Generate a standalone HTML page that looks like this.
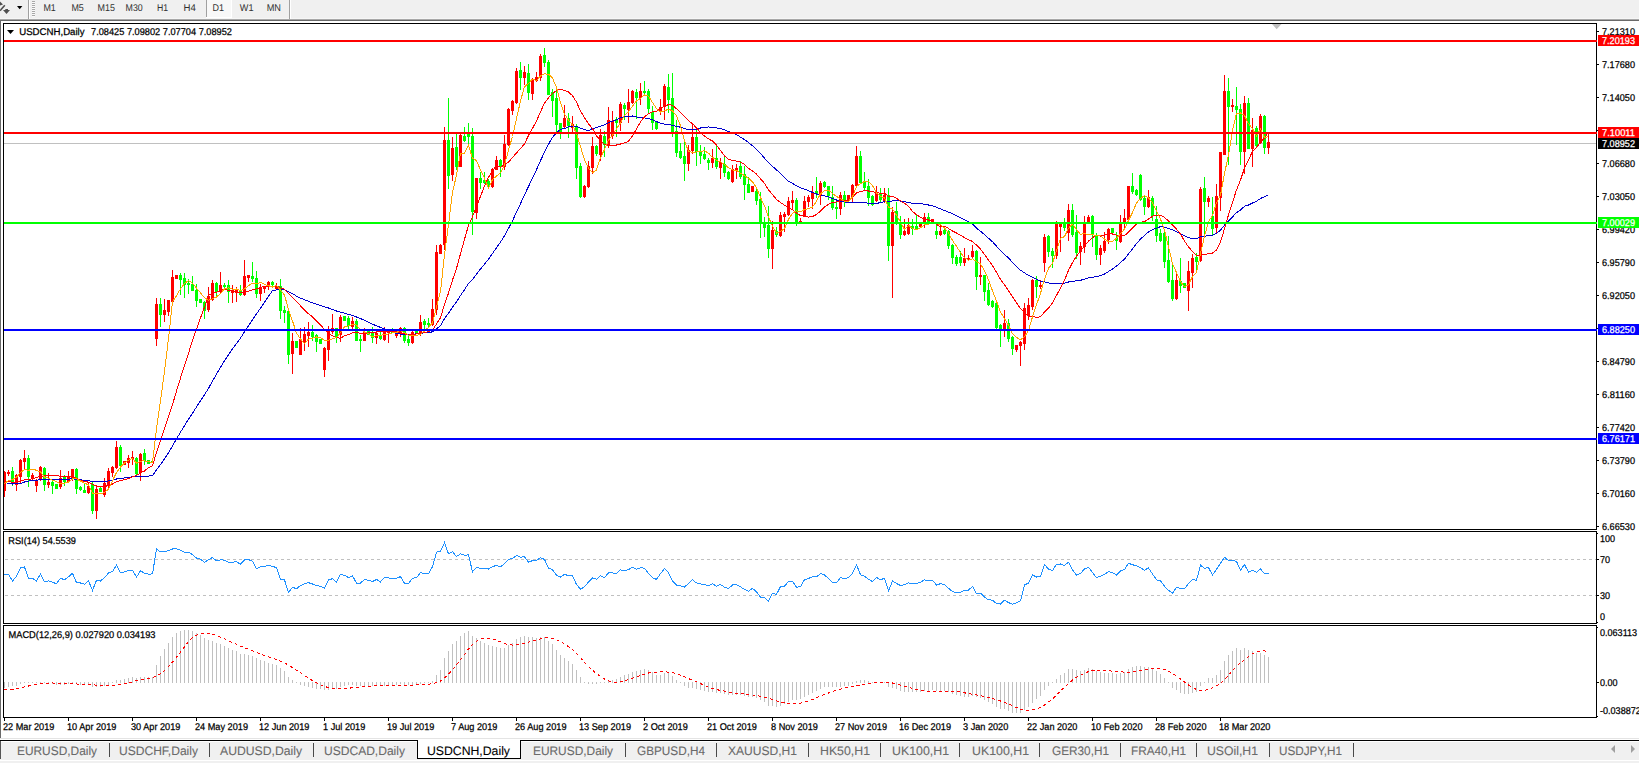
<!DOCTYPE html>
<html><head><meta charset="utf-8"><title>USDCNH,Daily</title>
<style>html,body{margin:0;padding:0;background:#fff;overflow:hidden}body{width:1639px;height:763px;font-family:"Liberation Sans", sans-serif}svg text{font-family:"Liberation Sans", sans-serif;white-space:pre}</style>
</head><body>
<svg width="1639" height="763" viewBox="0 0 1639 763" font-family='"Liberation Sans", sans-serif' style="display:block" text-rendering="geometricPrecision">
<rect x="0" y="0" width="1639" height="763" fill="#fff" />
<rect x="0" y="0" width="1639" height="18" fill="#f0f0f0" />
<rect x="0" y="18" width="1639" height="1" fill="#f6f6f6" />
<rect x="0" y="19" width="1639" height="1" fill="#a8a8a8" />
<rect x="0" y="20" width="1639" height="1" fill="#696969" />
<rect x="0" y="21" width="1" height="717" fill="#6a6a6a" />
<rect x="28" y="0" width="1" height="19" fill="#a0a0a0" />
<rect x="29" y="0" width="1" height="19" fill="#fff" />
<rect x="32" y="1" width="3" height="1" fill="#a8a8a8" />
<rect x="32" y="2" width="3" height="1" fill="#fafafa" />
<rect x="32" y="3" width="3" height="1" fill="#a8a8a8" />
<rect x="32" y="4" width="3" height="1" fill="#fafafa" />
<rect x="32" y="5" width="3" height="1" fill="#a8a8a8" />
<rect x="32" y="6" width="3" height="1" fill="#fafafa" />
<rect x="32" y="7" width="3" height="1" fill="#a8a8a8" />
<rect x="32" y="8" width="3" height="1" fill="#fafafa" />
<rect x="32" y="9" width="3" height="1" fill="#a8a8a8" />
<rect x="32" y="10" width="3" height="1" fill="#fafafa" />
<rect x="32" y="11" width="3" height="1" fill="#a8a8a8" />
<rect x="32" y="12" width="3" height="1" fill="#fafafa" />
<rect x="32" y="13" width="3" height="1" fill="#a8a8a8" />
<rect x="32" y="14" width="3" height="1" fill="#fafafa" />
<rect x="32" y="15" width="3" height="1" fill="#a8a8a8" />
<rect x="32" y="16" width="3" height="1" fill="#fafafa" />
<rect x="206" y="0" width="1" height="17" fill="#a0a0a0" />
<rect x="207" y="0" width="24" height="17" fill="#f8f8f8" />
<rect x="206" y="17" width="26" height="1" fill="#fff" />
<rect x="231" y="0" width="1" height="17" fill="#fff" />
<text x="43.4" y="11" font-size="9.8" fill="#303030" stroke="#303030" stroke-width="0" text-anchor="start" textLength="12.4" lengthAdjust="spacingAndGlyphs" >M1</text>
<text x="71.4" y="11" font-size="9.8" fill="#303030" stroke="#303030" stroke-width="0" text-anchor="start" textLength="12.4" lengthAdjust="spacingAndGlyphs" >M5</text>
<text x="97.6" y="11" font-size="9.8" fill="#303030" stroke="#303030" stroke-width="0" text-anchor="start" textLength="17.4" lengthAdjust="spacingAndGlyphs" >M15</text>
<text x="125.6" y="11" font-size="9.8" fill="#303030" stroke="#303030" stroke-width="0" text-anchor="start" textLength="17.2" lengthAdjust="spacingAndGlyphs" >M30</text>
<text x="156.9" y="11" font-size="9.8" fill="#303030" stroke="#303030" stroke-width="0" text-anchor="start" textLength="11.1" lengthAdjust="spacingAndGlyphs" >H1</text>
<text x="183.6" y="11" font-size="9.8" fill="#303030" stroke="#303030" stroke-width="0" text-anchor="start" textLength="12.3" lengthAdjust="spacingAndGlyphs" >H4</text>
<text x="212.5" y="11" font-size="9.8" fill="#303030" stroke="#303030" stroke-width="0" text-anchor="start" textLength="11.5" lengthAdjust="spacingAndGlyphs" >D1</text>
<text x="239.8" y="11" font-size="9.8" fill="#303030" stroke="#303030" stroke-width="0" text-anchor="start" textLength="13.7" lengthAdjust="spacingAndGlyphs" >W1</text>
<text x="266.7" y="11" font-size="9.8" fill="#303030" stroke="#303030" stroke-width="0" text-anchor="start" textLength="14.3" lengthAdjust="spacingAndGlyphs" >MN</text>
<rect x="289" y="0" width="1" height="19" fill="#a0a0a0" />
<rect x="290" y="0" width="1" height="19" fill="#fff" />
<path d="M0 1.5 L3 4.5 L0 5.5 Z" fill="#505050"/>
<path d="M4.8 5.2 L0 10.8" stroke="#505050" stroke-width="1.6" fill="none"/>
<path d="M5.3 9 L8 9 L8 10 L10 10 L6.5 14 L3 10 L5.3 10 Z" fill="#505050"/>
<path d="M17 6 L22.4 6 L19.7 9.3 Z" fill="#000"/>
<rect x="3" y="23" width="1594" height="1" fill="#000" />
<rect x="3" y="529" width="1594" height="1" fill="#000" />
<rect x="3" y="23" width="1" height="507" fill="#000" />
<rect x="1596" y="23" width="1" height="507" fill="#000" />
<rect x="3" y="531" width="1594" height="1" fill="#000" />
<rect x="3" y="623" width="1594" height="1" fill="#000" />
<rect x="3" y="531" width="1" height="93" fill="#000" />
<rect x="1596" y="531" width="1" height="93" fill="#000" />
<rect x="3" y="625" width="1594" height="1" fill="#000" />
<rect x="3" y="717" width="1594" height="1" fill="#000" />
<rect x="3" y="625" width="1" height="93" fill="#000" />
<rect x="1596" y="625" width="1" height="93" fill="#000" />
<g shape-rendering="crispEdges">
<rect x="4" y="143" width="1592" height="1" fill="#c0c0c0" />
<rect x="4" y="471" width="1" height="26" fill="#ff0000" />
<rect x="4" y="472" width="2" height="19" fill="#ff0000" />
<rect x="8" y="470" width="1" height="6" fill="#ff0000" />
<rect x="7" y="472" width="3" height="2" fill="#ff0000" />
<rect x="12" y="467" width="1" height="19" fill="#00ff00" />
<rect x="11" y="471" width="3" height="11" fill="#00ff00" />
<rect x="16" y="474" width="1" height="17" fill="#ff0000" />
<rect x="15" y="475" width="3" height="10" fill="#ff0000" />
<rect x="20" y="459" width="1" height="24" fill="#ff0000" />
<rect x="19" y="460" width="3" height="17" fill="#ff0000" />
<rect x="24" y="450" width="1" height="20" fill="#ff0000" />
<rect x="23" y="458" width="3" height="4" fill="#ff0000" />
<rect x="28" y="455" width="1" height="32" fill="#00ff00" />
<rect x="27" y="458" width="3" height="19" fill="#00ff00" />
<rect x="32" y="473" width="1" height="8" fill="#ff0000" />
<rect x="31" y="475" width="3" height="3" fill="#ff0000" />
<rect x="36" y="479" width="1" height="13" fill="#ff0000" />
<rect x="35" y="480" width="3" height="6" fill="#ff0000" />
<rect x="40" y="466" width="1" height="15" fill="#ff0000" />
<rect x="39" y="467" width="3" height="13" fill="#ff0000" />
<rect x="44" y="467" width="1" height="24" fill="#00ff00" />
<rect x="43" y="468" width="3" height="17" fill="#00ff00" />
<rect x="48" y="473" width="1" height="15" fill="#ff0000" />
<rect x="47" y="482" width="3" height="3" fill="#ff0000" />
<rect x="52" y="480" width="1" height="14" fill="#00ff00" />
<rect x="51" y="482" width="3" height="4" fill="#00ff00" />
<rect x="56" y="484" width="1" height="5" fill="#00ff00" />
<rect x="55" y="484" width="3" height="5" fill="#00ff00" />
<rect x="60" y="470" width="1" height="19" fill="#ff0000" />
<rect x="59" y="478" width="3" height="9" fill="#ff0000" />
<rect x="64" y="475" width="1" height="11" fill="#00ff00" />
<rect x="63" y="477" width="3" height="5" fill="#00ff00" />
<rect x="68" y="471" width="1" height="11" fill="#ff0000" />
<rect x="67" y="476" width="3" height="6" fill="#ff0000" />
<rect x="72" y="469" width="1" height="12" fill="#ff0000" />
<rect x="71" y="469" width="3" height="9" fill="#ff0000" />
<rect x="76" y="468" width="1" height="26" fill="#00ff00" />
<rect x="75" y="469" width="3" height="20" fill="#00ff00" />
<rect x="80" y="486" width="1" height="5" fill="#00ff00" />
<rect x="79" y="487" width="3" height="3" fill="#00ff00" />
<rect x="84" y="484" width="1" height="9" fill="#00ff00" />
<rect x="83" y="490" width="3" height="3" fill="#00ff00" />
<rect x="88" y="482" width="1" height="12" fill="#ff0000" />
<rect x="87" y="486" width="3" height="7" fill="#ff0000" />
<rect x="92" y="482" width="1" height="32" fill="#00ff00" />
<rect x="91" y="484" width="3" height="27" fill="#00ff00" />
<rect x="96" y="486" width="1" height="33" fill="#ff0000" />
<rect x="95" y="489" width="3" height="22" fill="#ff0000" />
<rect x="100" y="486" width="1" height="6" fill="#00ff00" />
<rect x="99" y="488" width="3" height="4" fill="#00ff00" />
<rect x="104" y="478" width="1" height="19" fill="#ff0000" />
<rect x="103" y="483" width="3" height="12" fill="#ff0000" />
<rect x="108" y="468" width="1" height="21" fill="#ff0000" />
<rect x="107" y="471" width="3" height="15" fill="#ff0000" />
<rect x="112" y="466" width="1" height="11" fill="#ff0000" />
<rect x="111" y="467" width="3" height="6" fill="#ff0000" />
<rect x="116" y="441" width="1" height="28" fill="#ff0000" />
<rect x="115" y="447" width="3" height="21" fill="#ff0000" />
<rect x="120" y="445" width="1" height="27" fill="#00ff00" />
<rect x="119" y="447" width="3" height="19" fill="#00ff00" />
<rect x="124" y="461" width="1" height="4" fill="#ff0000" />
<rect x="123" y="461" width="3" height="4" fill="#ff0000" />
<rect x="128" y="455" width="1" height="13" fill="#ff0000" />
<rect x="127" y="458" width="3" height="5" fill="#ff0000" />
<rect x="132" y="451" width="1" height="14" fill="#ff0000" />
<rect x="131" y="457" width="3" height="2" fill="#ff0000" />
<rect x="136" y="457" width="1" height="18" fill="#00ff00" />
<rect x="135" y="458" width="3" height="16" fill="#00ff00" />
<rect x="140" y="453" width="1" height="28" fill="#ff0000" />
<rect x="139" y="454" width="3" height="19" fill="#ff0000" />
<rect x="144" y="449" width="1" height="16" fill="#00ff00" />
<rect x="143" y="453" width="3" height="8" fill="#00ff00" />
<rect x="148" y="460" width="1" height="4" fill="#00ff00" />
<rect x="147" y="460" width="3" height="4" fill="#00ff00" />
<rect x="152" y="461" width="1" height="2" fill="#00ff00" />
<rect x="151" y="461" width="3" height="2" fill="#00ff00" />
<rect x="156" y="298" width="1" height="48" fill="#ff0000" />
<rect x="155" y="304" width="3" height="35" fill="#ff0000" />
<rect x="160" y="298" width="1" height="29" fill="#00ff00" />
<rect x="159" y="304" width="3" height="11" fill="#00ff00" />
<rect x="164" y="299" width="1" height="23" fill="#ff0000" />
<rect x="163" y="310" width="3" height="5" fill="#ff0000" />
<rect x="168" y="300" width="1" height="16" fill="#ff0000" />
<rect x="167" y="300" width="3" height="12" fill="#ff0000" />
<rect x="172" y="270" width="1" height="32" fill="#ff0000" />
<rect x="171" y="277" width="3" height="25" fill="#ff0000" />
<rect x="176" y="275" width="1" height="4" fill="#ff0000" />
<rect x="175" y="275" width="3" height="4" fill="#ff0000" />
<rect x="180" y="273" width="1" height="22" fill="#00ff00" />
<rect x="179" y="275" width="3" height="5" fill="#00ff00" />
<rect x="184" y="273" width="1" height="25" fill="#00ff00" />
<rect x="183" y="278" width="3" height="7" fill="#00ff00" />
<rect x="188" y="279" width="1" height="15" fill="#00ff00" />
<rect x="187" y="283" width="3" height="2" fill="#00ff00" />
<rect x="192" y="276" width="1" height="15" fill="#00ff00" />
<rect x="191" y="284" width="3" height="7" fill="#00ff00" />
<rect x="196" y="284" width="1" height="23" fill="#00ff00" />
<rect x="195" y="290" width="3" height="11" fill="#00ff00" />
<rect x="200" y="299" width="1" height="4" fill="#00ff00" />
<rect x="199" y="299" width="3" height="4" fill="#00ff00" />
<rect x="204" y="301" width="1" height="18" fill="#00ff00" />
<rect x="203" y="302" width="3" height="9" fill="#00ff00" />
<rect x="208" y="287" width="1" height="25" fill="#ff0000" />
<rect x="207" y="296" width="3" height="14" fill="#ff0000" />
<rect x="212" y="280" width="1" height="21" fill="#ff0000" />
<rect x="211" y="283" width="3" height="17" fill="#ff0000" />
<rect x="216" y="282" width="1" height="15" fill="#00ff00" />
<rect x="215" y="283" width="3" height="9" fill="#00ff00" />
<rect x="220" y="272" width="1" height="21" fill="#ff0000" />
<rect x="219" y="285" width="3" height="7" fill="#ff0000" />
<rect x="224" y="283" width="1" height="6" fill="#00ff00" />
<rect x="223" y="285" width="3" height="2" fill="#00ff00" />
<rect x="228" y="280" width="1" height="23" fill="#00ff00" />
<rect x="227" y="285" width="3" height="7" fill="#00ff00" />
<rect x="232" y="285" width="1" height="18" fill="#ff0000" />
<rect x="231" y="290" width="3" height="3" fill="#ff0000" />
<rect x="236" y="287" width="1" height="15" fill="#ff0000" />
<rect x="235" y="289" width="3" height="4" fill="#ff0000" />
<rect x="240" y="285" width="1" height="11" fill="#00ff00" />
<rect x="239" y="290" width="3" height="5" fill="#00ff00" />
<rect x="244" y="260" width="1" height="36" fill="#ff0000" />
<rect x="243" y="276" width="3" height="19" fill="#ff0000" />
<rect x="248" y="275" width="1" height="7" fill="#ff0000" />
<rect x="247" y="275" width="3" height="3" fill="#ff0000" />
<rect x="252" y="262" width="1" height="20" fill="#00ff00" />
<rect x="251" y="276" width="3" height="3" fill="#00ff00" />
<rect x="256" y="271" width="1" height="27" fill="#00ff00" />
<rect x="255" y="278" width="3" height="16" fill="#00ff00" />
<rect x="260" y="284" width="1" height="17" fill="#ff0000" />
<rect x="259" y="287" width="3" height="7" fill="#ff0000" />
<rect x="264" y="286" width="1" height="7" fill="#ff0000" />
<rect x="263" y="286" width="3" height="3" fill="#ff0000" />
<rect x="268" y="281" width="1" height="9" fill="#ff0000" />
<rect x="267" y="282" width="3" height="4" fill="#ff0000" />
<rect x="272" y="281" width="1" height="5" fill="#00ff00" />
<rect x="271" y="282" width="3" height="3" fill="#00ff00" />
<rect x="276" y="283" width="1" height="6" fill="#ff0000" />
<rect x="275" y="286" width="3" height="3" fill="#ff0000" />
<rect x="280" y="279" width="1" height="40" fill="#00ff00" />
<rect x="279" y="286" width="3" height="25" fill="#00ff00" />
<rect x="284" y="306" width="1" height="17" fill="#00ff00" />
<rect x="283" y="310" width="3" height="3" fill="#00ff00" />
<rect x="288" y="310" width="1" height="54" fill="#00ff00" />
<rect x="287" y="311" width="3" height="44" fill="#00ff00" />
<rect x="292" y="333" width="1" height="41" fill="#ff0000" />
<rect x="291" y="341" width="3" height="13" fill="#ff0000" />
<rect x="296" y="341" width="1" height="7" fill="#00ff00" />
<rect x="295" y="341" width="3" height="7" fill="#00ff00" />
<rect x="300" y="328" width="1" height="27" fill="#ff0000" />
<rect x="299" y="339" width="3" height="16" fill="#ff0000" />
<rect x="304" y="327" width="1" height="24" fill="#ff0000" />
<rect x="303" y="334" width="3" height="8" fill="#ff0000" />
<rect x="308" y="322" width="1" height="25" fill="#ff0000" />
<rect x="307" y="332" width="3" height="4" fill="#ff0000" />
<rect x="312" y="325" width="1" height="16" fill="#00ff00" />
<rect x="311" y="332" width="3" height="5" fill="#00ff00" />
<rect x="316" y="334" width="1" height="18" fill="#00ff00" />
<rect x="315" y="335" width="3" height="7" fill="#00ff00" />
<rect x="320" y="339" width="1" height="5" fill="#00ff00" />
<rect x="319" y="339" width="3" height="5" fill="#00ff00" />
<rect x="324" y="347" width="1" height="30" fill="#ff0000" />
<rect x="323" y="348" width="3" height="22" fill="#ff0000" />
<rect x="328" y="326" width="1" height="35" fill="#ff0000" />
<rect x="327" y="331" width="3" height="19" fill="#ff0000" />
<rect x="332" y="314" width="1" height="20" fill="#ff0000" />
<rect x="331" y="328" width="3" height="4" fill="#ff0000" />
<rect x="336" y="328" width="1" height="15" fill="#00ff00" />
<rect x="335" y="328" width="3" height="10" fill="#00ff00" />
<rect x="340" y="315" width="1" height="27" fill="#ff0000" />
<rect x="339" y="317" width="3" height="18" fill="#ff0000" />
<rect x="344" y="316" width="1" height="5" fill="#00ff00" />
<rect x="343" y="316" width="3" height="5" fill="#00ff00" />
<rect x="348" y="316" width="1" height="14" fill="#00ff00" />
<rect x="347" y="318" width="3" height="8" fill="#00ff00" />
<rect x="352" y="317" width="1" height="13" fill="#ff0000" />
<rect x="351" y="321" width="3" height="6" fill="#ff0000" />
<rect x="356" y="319" width="1" height="22" fill="#00ff00" />
<rect x="355" y="321" width="3" height="20" fill="#00ff00" />
<rect x="360" y="335" width="1" height="17" fill="#00ff00" />
<rect x="359" y="339" width="3" height="2" fill="#00ff00" />
<rect x="364" y="328" width="1" height="13" fill="#ff0000" />
<rect x="363" y="332" width="3" height="9" fill="#ff0000" />
<rect x="368" y="331" width="1" height="4" fill="#00ff00" />
<rect x="367" y="331" width="3" height="4" fill="#00ff00" />
<rect x="372" y="327" width="1" height="16" fill="#00ff00" />
<rect x="371" y="332" width="3" height="6" fill="#00ff00" />
<rect x="376" y="332" width="1" height="12" fill="#ff0000" />
<rect x="375" y="333" width="3" height="5" fill="#ff0000" />
<rect x="380" y="331" width="1" height="9" fill="#00ff00" />
<rect x="379" y="335" width="3" height="4" fill="#00ff00" />
<rect x="384" y="327" width="1" height="14" fill="#ff0000" />
<rect x="383" y="329" width="3" height="11" fill="#ff0000" />
<rect x="388" y="329" width="1" height="14" fill="#ff0000" />
<rect x="387" y="330" width="3" height="3" fill="#ff0000" />
<rect x="392" y="328" width="1" height="5" fill="#00ff00" />
<rect x="391" y="329" width="3" height="4" fill="#00ff00" />
<rect x="396" y="329" width="1" height="9" fill="#ff0000" />
<rect x="395" y="331" width="3" height="5" fill="#ff0000" />
<rect x="400" y="327" width="1" height="10" fill="#ff0000" />
<rect x="399" y="328" width="3" height="6" fill="#ff0000" />
<rect x="404" y="327" width="1" height="16" fill="#00ff00" />
<rect x="403" y="328" width="3" height="13" fill="#00ff00" />
<rect x="408" y="336" width="1" height="10" fill="#00ff00" />
<rect x="407" y="339" width="3" height="4" fill="#00ff00" />
<rect x="412" y="331" width="1" height="13" fill="#ff0000" />
<rect x="411" y="332" width="3" height="11" fill="#ff0000" />
<rect x="416" y="331" width="1" height="2" fill="#00ff00" />
<rect x="415" y="331" width="3" height="2" fill="#00ff00" />
<rect x="420" y="315" width="1" height="21" fill="#ff0000" />
<rect x="419" y="322" width="3" height="11" fill="#ff0000" />
<rect x="424" y="319" width="1" height="11" fill="#00ff00" />
<rect x="423" y="321" width="3" height="4" fill="#00ff00" />
<rect x="428" y="318" width="1" height="10" fill="#00ff00" />
<rect x="427" y="323" width="3" height="2" fill="#00ff00" />
<rect x="432" y="299" width="1" height="27" fill="#ff0000" />
<rect x="431" y="309" width="3" height="16" fill="#ff0000" />
<rect x="436" y="245" width="1" height="70" fill="#ff0000" />
<rect x="435" y="252" width="3" height="58" fill="#ff0000" />
<rect x="440" y="244" width="1" height="10" fill="#ff0000" />
<rect x="439" y="245" width="3" height="9" fill="#ff0000" />
<rect x="444" y="127" width="1" height="123" fill="#ff0000" />
<rect x="443" y="140" width="3" height="105" fill="#ff0000" />
<rect x="448" y="98" width="1" height="91" fill="#00ff00" />
<rect x="447" y="140" width="3" height="36" fill="#00ff00" />
<rect x="452" y="137" width="1" height="44" fill="#ff0000" />
<rect x="451" y="148" width="3" height="27" fill="#ff0000" />
<rect x="456" y="134" width="1" height="36" fill="#00ff00" />
<rect x="455" y="147" width="3" height="20" fill="#00ff00" />
<rect x="460" y="133" width="1" height="34" fill="#ff0000" />
<rect x="459" y="135" width="3" height="32" fill="#ff0000" />
<rect x="464" y="127" width="1" height="15" fill="#00ff00" />
<rect x="463" y="136" width="3" height="5" fill="#00ff00" />
<rect x="468" y="123" width="1" height="23" fill="#00ff00" />
<rect x="467" y="134" width="3" height="3" fill="#00ff00" />
<rect x="472" y="128" width="1" height="107" fill="#00ff00" />
<rect x="471" y="136" width="3" height="76" fill="#00ff00" />
<rect x="476" y="178" width="1" height="41" fill="#ff0000" />
<rect x="475" y="178" width="3" height="35" fill="#ff0000" />
<rect x="480" y="172" width="1" height="17" fill="#00ff00" />
<rect x="479" y="178" width="3" height="5" fill="#00ff00" />
<rect x="484" y="172" width="1" height="12" fill="#00ff00" />
<rect x="483" y="180" width="3" height="3" fill="#00ff00" />
<rect x="488" y="179" width="1" height="9" fill="#00ff00" />
<rect x="487" y="181" width="3" height="5" fill="#00ff00" />
<rect x="492" y="168" width="1" height="20" fill="#ff0000" />
<rect x="491" y="169" width="3" height="18" fill="#ff0000" />
<rect x="496" y="156" width="1" height="14" fill="#ff0000" />
<rect x="495" y="160" width="3" height="10" fill="#ff0000" />
<rect x="500" y="159" width="1" height="18" fill="#00ff00" />
<rect x="499" y="160" width="3" height="7" fill="#00ff00" />
<rect x="504" y="135" width="1" height="35" fill="#ff0000" />
<rect x="503" y="144" width="3" height="23" fill="#ff0000" />
<rect x="508" y="108" width="1" height="38" fill="#ff0000" />
<rect x="507" y="109" width="3" height="36" fill="#ff0000" />
<rect x="512" y="100" width="1" height="15" fill="#ff0000" />
<rect x="511" y="101" width="3" height="10" fill="#ff0000" />
<rect x="516" y="68" width="1" height="36" fill="#ff0000" />
<rect x="515" y="71" width="3" height="32" fill="#ff0000" />
<rect x="520" y="62" width="1" height="28" fill="#00ff00" />
<rect x="519" y="70" width="3" height="8" fill="#00ff00" />
<rect x="524" y="66" width="1" height="19" fill="#ff0000" />
<rect x="523" y="72" width="3" height="6" fill="#ff0000" />
<rect x="528" y="64" width="1" height="36" fill="#00ff00" />
<rect x="527" y="73" width="3" height="20" fill="#00ff00" />
<rect x="532" y="78" width="1" height="22" fill="#ff0000" />
<rect x="531" y="80" width="3" height="14" fill="#ff0000" />
<rect x="536" y="72" width="1" height="10" fill="#ff0000" />
<rect x="535" y="77" width="3" height="4" fill="#ff0000" />
<rect x="540" y="54" width="1" height="27" fill="#ff0000" />
<rect x="539" y="56" width="3" height="22" fill="#ff0000" />
<rect x="544" y="48" width="1" height="19" fill="#00ff00" />
<rect x="543" y="55" width="3" height="8" fill="#00ff00" />
<rect x="548" y="60" width="1" height="35" fill="#00ff00" />
<rect x="547" y="62" width="3" height="33" fill="#00ff00" />
<rect x="552" y="89" width="1" height="28" fill="#00ff00" />
<rect x="551" y="92" width="3" height="9" fill="#00ff00" />
<rect x="556" y="91" width="1" height="42" fill="#00ff00" />
<rect x="555" y="98" width="3" height="27" fill="#00ff00" />
<rect x="560" y="123" width="1" height="16" fill="#00ff00" />
<rect x="559" y="123" width="3" height="10" fill="#00ff00" />
<rect x="564" y="105" width="1" height="23" fill="#ff0000" />
<rect x="563" y="118" width="3" height="9" fill="#ff0000" />
<rect x="568" y="113" width="1" height="25" fill="#00ff00" />
<rect x="567" y="118" width="3" height="8" fill="#00ff00" />
<rect x="572" y="116" width="1" height="17" fill="#ff0000" />
<rect x="571" y="124" width="3" height="4" fill="#ff0000" />
<rect x="576" y="124" width="1" height="55" fill="#00ff00" />
<rect x="575" y="126" width="3" height="42" fill="#00ff00" />
<rect x="580" y="163" width="1" height="35" fill="#00ff00" />
<rect x="579" y="166" width="3" height="31" fill="#00ff00" />
<rect x="584" y="185" width="1" height="13" fill="#ff0000" />
<rect x="583" y="186" width="3" height="11" fill="#ff0000" />
<rect x="588" y="161" width="1" height="27" fill="#ff0000" />
<rect x="587" y="166" width="3" height="21" fill="#ff0000" />
<rect x="592" y="137" width="1" height="37" fill="#ff0000" />
<rect x="591" y="146" width="3" height="22" fill="#ff0000" />
<rect x="596" y="145" width="1" height="11" fill="#00ff00" />
<rect x="595" y="146" width="3" height="8" fill="#00ff00" />
<rect x="600" y="129" width="1" height="32" fill="#ff0000" />
<rect x="599" y="135" width="3" height="20" fill="#ff0000" />
<rect x="604" y="131" width="1" height="26" fill="#00ff00" />
<rect x="603" y="136" width="3" height="9" fill="#00ff00" />
<rect x="608" y="107" width="1" height="41" fill="#ff0000" />
<rect x="607" y="120" width="3" height="26" fill="#ff0000" />
<rect x="612" y="111" width="1" height="28" fill="#ff0000" />
<rect x="611" y="121" width="3" height="15" fill="#ff0000" />
<rect x="616" y="117" width="1" height="20" fill="#00ff00" />
<rect x="615" y="119" width="3" height="4" fill="#00ff00" />
<rect x="620" y="102" width="1" height="29" fill="#ff0000" />
<rect x="619" y="104" width="3" height="19" fill="#ff0000" />
<rect x="624" y="103" width="1" height="17" fill="#00ff00" />
<rect x="623" y="105" width="3" height="4" fill="#00ff00" />
<rect x="628" y="89" width="1" height="34" fill="#ff0000" />
<rect x="627" y="102" width="3" height="8" fill="#ff0000" />
<rect x="632" y="90" width="1" height="14" fill="#ff0000" />
<rect x="631" y="91" width="3" height="12" fill="#ff0000" />
<rect x="636" y="89" width="1" height="30" fill="#00ff00" />
<rect x="635" y="92" width="3" height="6" fill="#00ff00" />
<rect x="640" y="83" width="1" height="22" fill="#ff0000" />
<rect x="639" y="91" width="3" height="7" fill="#ff0000" />
<rect x="644" y="81" width="1" height="15" fill="#00ff00" />
<rect x="643" y="91" width="3" height="2" fill="#00ff00" />
<rect x="648" y="89" width="1" height="24" fill="#00ff00" />
<rect x="647" y="91" width="3" height="18" fill="#00ff00" />
<rect x="652" y="106" width="1" height="24" fill="#00ff00" />
<rect x="651" y="112" width="3" height="11" fill="#00ff00" />
<rect x="656" y="121" width="1" height="9" fill="#00ff00" />
<rect x="655" y="122" width="3" height="7" fill="#00ff00" />
<rect x="660" y="99" width="1" height="16" fill="#ff0000" />
<rect x="659" y="107" width="3" height="5" fill="#ff0000" />
<rect x="664" y="84" width="1" height="36" fill="#ff0000" />
<rect x="663" y="86" width="3" height="21" fill="#ff0000" />
<rect x="668" y="74" width="1" height="39" fill="#00ff00" />
<rect x="667" y="87" width="3" height="13" fill="#00ff00" />
<rect x="672" y="73" width="1" height="64" fill="#00ff00" />
<rect x="671" y="98" width="3" height="35" fill="#00ff00" />
<rect x="676" y="120" width="1" height="37" fill="#00ff00" />
<rect x="675" y="131" width="3" height="22" fill="#00ff00" />
<rect x="680" y="143" width="1" height="16" fill="#00ff00" />
<rect x="679" y="151" width="3" height="7" fill="#00ff00" />
<rect x="684" y="142" width="1" height="39" fill="#00ff00" />
<rect x="683" y="156" width="3" height="8" fill="#00ff00" />
<rect x="688" y="145" width="1" height="26" fill="#ff0000" />
<rect x="687" y="150" width="3" height="14" fill="#ff0000" />
<rect x="692" y="124" width="1" height="30" fill="#ff0000" />
<rect x="691" y="137" width="3" height="14" fill="#ff0000" />
<rect x="696" y="128" width="1" height="38" fill="#00ff00" />
<rect x="695" y="137" width="3" height="15" fill="#00ff00" />
<rect x="700" y="145" width="1" height="19" fill="#00ff00" />
<rect x="699" y="151" width="3" height="5" fill="#00ff00" />
<rect x="704" y="147" width="1" height="13" fill="#00ff00" />
<rect x="703" y="154" width="3" height="5" fill="#00ff00" />
<rect x="708" y="158" width="1" height="12" fill="#00ff00" />
<rect x="707" y="160" width="3" height="3" fill="#00ff00" />
<rect x="712" y="149" width="1" height="19" fill="#ff0000" />
<rect x="711" y="158" width="3" height="5" fill="#ff0000" />
<rect x="716" y="146" width="1" height="23" fill="#00ff00" />
<rect x="715" y="158" width="3" height="9" fill="#00ff00" />
<rect x="720" y="158" width="1" height="21" fill="#ff0000" />
<rect x="719" y="162" width="3" height="6" fill="#ff0000" />
<rect x="724" y="157" width="1" height="20" fill="#00ff00" />
<rect x="723" y="164" width="3" height="9" fill="#00ff00" />
<rect x="728" y="171" width="1" height="9" fill="#00ff00" />
<rect x="727" y="172" width="3" height="7" fill="#00ff00" />
<rect x="732" y="165" width="1" height="18" fill="#ff0000" />
<rect x="731" y="169" width="3" height="13" fill="#ff0000" />
<rect x="736" y="164" width="1" height="15" fill="#ff0000" />
<rect x="735" y="168" width="3" height="3" fill="#ff0000" />
<rect x="740" y="161" width="1" height="18" fill="#00ff00" />
<rect x="739" y="166" width="3" height="11" fill="#00ff00" />
<rect x="744" y="166" width="1" height="34" fill="#00ff00" />
<rect x="743" y="174" width="3" height="11" fill="#00ff00" />
<rect x="748" y="177" width="1" height="16" fill="#00ff00" />
<rect x="747" y="184" width="3" height="9" fill="#00ff00" />
<rect x="752" y="186" width="1" height="6" fill="#ff0000" />
<rect x="751" y="186" width="3" height="6" fill="#ff0000" />
<rect x="756" y="189" width="1" height="16" fill="#00ff00" />
<rect x="755" y="191" width="3" height="10" fill="#00ff00" />
<rect x="760" y="192" width="1" height="46" fill="#00ff00" />
<rect x="759" y="199" width="3" height="25" fill="#00ff00" />
<rect x="764" y="217" width="1" height="20" fill="#00ff00" />
<rect x="763" y="223" width="3" height="5" fill="#00ff00" />
<rect x="768" y="206" width="1" height="52" fill="#00ff00" />
<rect x="767" y="225" width="3" height="24" fill="#00ff00" />
<rect x="772" y="221" width="1" height="48" fill="#ff0000" />
<rect x="771" y="230" width="3" height="19" fill="#ff0000" />
<rect x="776" y="227" width="1" height="10" fill="#00ff00" />
<rect x="775" y="231" width="3" height="4" fill="#00ff00" />
<rect x="780" y="212" width="1" height="25" fill="#ff0000" />
<rect x="779" y="215" width="3" height="21" fill="#ff0000" />
<rect x="784" y="212" width="1" height="20" fill="#ff0000" />
<rect x="783" y="214" width="3" height="3" fill="#ff0000" />
<rect x="788" y="197" width="1" height="19" fill="#ff0000" />
<rect x="787" y="201" width="3" height="14" fill="#ff0000" />
<rect x="792" y="191" width="1" height="19" fill="#ff0000" />
<rect x="791" y="200" width="3" height="3" fill="#ff0000" />
<rect x="796" y="198" width="1" height="28" fill="#00ff00" />
<rect x="795" y="200" width="3" height="23" fill="#00ff00" />
<rect x="800" y="218" width="1" height="5" fill="#ff0000" />
<rect x="799" y="221" width="3" height="2" fill="#ff0000" />
<rect x="804" y="196" width="1" height="21" fill="#ff0000" />
<rect x="803" y="201" width="3" height="16" fill="#ff0000" />
<rect x="808" y="195" width="1" height="12" fill="#ff0000" />
<rect x="807" y="197" width="3" height="5" fill="#ff0000" />
<rect x="812" y="186" width="1" height="23" fill="#ff0000" />
<rect x="811" y="192" width="3" height="7" fill="#ff0000" />
<rect x="816" y="177" width="1" height="21" fill="#00ff00" />
<rect x="815" y="191" width="3" height="3" fill="#00ff00" />
<rect x="820" y="181" width="1" height="24" fill="#ff0000" />
<rect x="819" y="183" width="3" height="13" fill="#ff0000" />
<rect x="824" y="181" width="1" height="7" fill="#00ff00" />
<rect x="823" y="182" width="3" height="5" fill="#00ff00" />
<rect x="828" y="186" width="1" height="14" fill="#00ff00" />
<rect x="827" y="186" width="3" height="10" fill="#00ff00" />
<rect x="832" y="186" width="1" height="24" fill="#00ff00" />
<rect x="831" y="197" width="3" height="11" fill="#00ff00" />
<rect x="836" y="200" width="1" height="19" fill="#00ff00" />
<rect x="835" y="207" width="3" height="2" fill="#00ff00" />
<rect x="840" y="192" width="1" height="23" fill="#ff0000" />
<rect x="839" y="195" width="3" height="14" fill="#ff0000" />
<rect x="844" y="191" width="1" height="16" fill="#00ff00" />
<rect x="843" y="195" width="3" height="5" fill="#00ff00" />
<rect x="848" y="195" width="1" height="5" fill="#ff0000" />
<rect x="847" y="195" width="3" height="5" fill="#ff0000" />
<rect x="852" y="184" width="1" height="19" fill="#ff0000" />
<rect x="851" y="185" width="3" height="12" fill="#ff0000" />
<rect x="856" y="146" width="1" height="41" fill="#ff0000" />
<rect x="855" y="156" width="3" height="30" fill="#ff0000" />
<rect x="860" y="151" width="1" height="33" fill="#00ff00" />
<rect x="859" y="156" width="3" height="27" fill="#00ff00" />
<rect x="864" y="172" width="1" height="19" fill="#00ff00" />
<rect x="863" y="182" width="3" height="6" fill="#00ff00" />
<rect x="868" y="179" width="1" height="27" fill="#00ff00" />
<rect x="867" y="186" width="3" height="12" fill="#00ff00" />
<rect x="872" y="195" width="1" height="11" fill="#00ff00" />
<rect x="871" y="196" width="3" height="9" fill="#00ff00" />
<rect x="876" y="186" width="1" height="16" fill="#ff0000" />
<rect x="875" y="192" width="3" height="9" fill="#ff0000" />
<rect x="880" y="188" width="1" height="14" fill="#00ff00" />
<rect x="879" y="193" width="3" height="7" fill="#00ff00" />
<rect x="884" y="188" width="1" height="15" fill="#ff0000" />
<rect x="883" y="195" width="3" height="7" fill="#ff0000" />
<rect x="888" y="188" width="1" height="73" fill="#00ff00" />
<rect x="887" y="195" width="3" height="51" fill="#00ff00" />
<rect x="892" y="207" width="1" height="91" fill="#ff0000" />
<rect x="891" y="212" width="3" height="34" fill="#ff0000" />
<rect x="896" y="202" width="1" height="23" fill="#00ff00" />
<rect x="895" y="211" width="3" height="13" fill="#00ff00" />
<rect x="900" y="216" width="1" height="23" fill="#00ff00" />
<rect x="899" y="223" width="3" height="12" fill="#00ff00" />
<rect x="904" y="219" width="1" height="17" fill="#ff0000" />
<rect x="903" y="231" width="3" height="4" fill="#ff0000" />
<rect x="908" y="218" width="1" height="17" fill="#ff0000" />
<rect x="907" y="225" width="3" height="9" fill="#ff0000" />
<rect x="912" y="219" width="1" height="16" fill="#00ff00" />
<rect x="911" y="226" width="3" height="3" fill="#00ff00" />
<rect x="916" y="214" width="1" height="16" fill="#00ff00" />
<rect x="915" y="226" width="3" height="3" fill="#00ff00" />
<rect x="920" y="224" width="1" height="3" fill="#ff0000" />
<rect x="919" y="224" width="3" height="3" fill="#ff0000" />
<rect x="924" y="213" width="1" height="15" fill="#ff0000" />
<rect x="923" y="217" width="3" height="6" fill="#ff0000" />
<rect x="928" y="213" width="1" height="10" fill="#00ff00" />
<rect x="927" y="217" width="3" height="5" fill="#00ff00" />
<rect x="932" y="219" width="1" height="5" fill="#ff0000" />
<rect x="931" y="219" width="3" height="5" fill="#ff0000" />
<rect x="936" y="224" width="1" height="15" fill="#00ff00" />
<rect x="935" y="231" width="3" height="4" fill="#00ff00" />
<rect x="940" y="225" width="1" height="11" fill="#ff0000" />
<rect x="939" y="231" width="3" height="4" fill="#ff0000" />
<rect x="944" y="229" width="1" height="6" fill="#00ff00" />
<rect x="943" y="230" width="3" height="4" fill="#00ff00" />
<rect x="948" y="230" width="1" height="19" fill="#00ff00" />
<rect x="947" y="231" width="3" height="15" fill="#00ff00" />
<rect x="952" y="244" width="1" height="20" fill="#00ff00" />
<rect x="951" y="245" width="3" height="13" fill="#00ff00" />
<rect x="956" y="255" width="1" height="11" fill="#00ff00" />
<rect x="955" y="257" width="3" height="7" fill="#00ff00" />
<rect x="960" y="251" width="1" height="15" fill="#00ff00" />
<rect x="959" y="257" width="3" height="6" fill="#00ff00" />
<rect x="964" y="248" width="1" height="18" fill="#ff0000" />
<rect x="963" y="258" width="3" height="5" fill="#ff0000" />
<rect x="968" y="255" width="1" height="6" fill="#ff0000" />
<rect x="967" y="258" width="3" height="2" fill="#ff0000" />
<rect x="972" y="245" width="1" height="14" fill="#ff0000" />
<rect x="971" y="251" width="3" height="6" fill="#ff0000" />
<rect x="976" y="250" width="1" height="40" fill="#00ff00" />
<rect x="975" y="251" width="3" height="26" fill="#00ff00" />
<rect x="980" y="257" width="1" height="28" fill="#ff0000" />
<rect x="979" y="275" width="3" height="2" fill="#ff0000" />
<rect x="984" y="275" width="1" height="26" fill="#00ff00" />
<rect x="983" y="275" width="3" height="17" fill="#00ff00" />
<rect x="988" y="283" width="1" height="23" fill="#00ff00" />
<rect x="987" y="290" width="3" height="15" fill="#00ff00" />
<rect x="992" y="300" width="1" height="8" fill="#00ff00" />
<rect x="991" y="301" width="3" height="6" fill="#00ff00" />
<rect x="996" y="301" width="1" height="28" fill="#00ff00" />
<rect x="995" y="303" width="3" height="25" fill="#00ff00" />
<rect x="1000" y="324" width="1" height="23" fill="#00ff00" />
<rect x="999" y="325" width="3" height="6" fill="#00ff00" />
<rect x="1004" y="310" width="1" height="27" fill="#ff0000" />
<rect x="1003" y="323" width="3" height="7" fill="#ff0000" />
<rect x="1008" y="319" width="1" height="23" fill="#00ff00" />
<rect x="1007" y="323" width="3" height="16" fill="#00ff00" />
<rect x="1012" y="336" width="1" height="19" fill="#00ff00" />
<rect x="1011" y="337" width="3" height="12" fill="#00ff00" />
<rect x="1016" y="345" width="1" height="7" fill="#ff0000" />
<rect x="1015" y="345" width="3" height="5" fill="#ff0000" />
<rect x="1020" y="341" width="1" height="25" fill="#ff0000" />
<rect x="1019" y="342" width="3" height="4" fill="#ff0000" />
<rect x="1024" y="303" width="1" height="47" fill="#ff0000" />
<rect x="1023" y="308" width="3" height="36" fill="#ff0000" />
<rect x="1028" y="298" width="1" height="22" fill="#ff0000" />
<rect x="1027" y="305" width="3" height="11" fill="#ff0000" />
<rect x="1032" y="279" width="1" height="31" fill="#ff0000" />
<rect x="1031" y="280" width="3" height="27" fill="#ff0000" />
<rect x="1036" y="276" width="1" height="22" fill="#00ff00" />
<rect x="1035" y="280" width="3" height="7" fill="#00ff00" />
<rect x="1040" y="280" width="1" height="9" fill="#ff0000" />
<rect x="1039" y="285" width="3" height="2" fill="#ff0000" />
<rect x="1044" y="234" width="1" height="38" fill="#ff0000" />
<rect x="1043" y="237" width="3" height="26" fill="#ff0000" />
<rect x="1048" y="235" width="1" height="22" fill="#00ff00" />
<rect x="1047" y="236" width="3" height="16" fill="#00ff00" />
<rect x="1052" y="248" width="1" height="20" fill="#00ff00" />
<rect x="1051" y="251" width="3" height="5" fill="#00ff00" />
<rect x="1056" y="221" width="1" height="38" fill="#ff0000" />
<rect x="1055" y="223" width="3" height="33" fill="#ff0000" />
<rect x="1060" y="222" width="1" height="30" fill="#ff0000" />
<rect x="1059" y="223" width="3" height="4" fill="#ff0000" />
<rect x="1064" y="218" width="1" height="13" fill="#00ff00" />
<rect x="1063" y="223" width="3" height="5" fill="#00ff00" />
<rect x="1068" y="204" width="1" height="37" fill="#ff0000" />
<rect x="1067" y="210" width="3" height="23" fill="#ff0000" />
<rect x="1072" y="204" width="1" height="33" fill="#00ff00" />
<rect x="1071" y="210" width="3" height="25" fill="#00ff00" />
<rect x="1076" y="215" width="1" height="44" fill="#00ff00" />
<rect x="1075" y="232" width="3" height="21" fill="#00ff00" />
<rect x="1080" y="242" width="1" height="23" fill="#ff0000" />
<rect x="1079" y="246" width="3" height="6" fill="#ff0000" />
<rect x="1084" y="216" width="1" height="37" fill="#ff0000" />
<rect x="1083" y="224" width="3" height="23" fill="#ff0000" />
<rect x="1088" y="215" width="1" height="8" fill="#ff0000" />
<rect x="1087" y="217" width="3" height="6" fill="#ff0000" />
<rect x="1092" y="215" width="1" height="32" fill="#00ff00" />
<rect x="1091" y="216" width="3" height="19" fill="#00ff00" />
<rect x="1096" y="233" width="1" height="27" fill="#00ff00" />
<rect x="1095" y="235" width="3" height="20" fill="#00ff00" />
<rect x="1100" y="245" width="1" height="20" fill="#ff0000" />
<rect x="1099" y="248" width="3" height="7" fill="#ff0000" />
<rect x="1104" y="232" width="1" height="21" fill="#ff0000" />
<rect x="1103" y="241" width="3" height="10" fill="#ff0000" />
<rect x="1108" y="228" width="1" height="16" fill="#ff0000" />
<rect x="1107" y="229" width="3" height="11" fill="#ff0000" />
<rect x="1112" y="228" width="1" height="5" fill="#00ff00" />
<rect x="1111" y="228" width="3" height="5" fill="#00ff00" />
<rect x="1116" y="232" width="1" height="18" fill="#00ff00" />
<rect x="1115" y="238" width="3" height="3" fill="#00ff00" />
<rect x="1120" y="215" width="1" height="28" fill="#ff0000" />
<rect x="1119" y="224" width="3" height="18" fill="#ff0000" />
<rect x="1124" y="209" width="1" height="20" fill="#ff0000" />
<rect x="1123" y="218" width="3" height="6" fill="#ff0000" />
<rect x="1128" y="186" width="1" height="35" fill="#ff0000" />
<rect x="1127" y="186" width="3" height="34" fill="#ff0000" />
<rect x="1132" y="173" width="1" height="21" fill="#00ff00" />
<rect x="1131" y="186" width="3" height="6" fill="#00ff00" />
<rect x="1136" y="189" width="1" height="7" fill="#00ff00" />
<rect x="1135" y="190" width="3" height="5" fill="#00ff00" />
<rect x="1140" y="174" width="1" height="27" fill="#00ff00" />
<rect x="1139" y="175" width="3" height="25" fill="#00ff00" />
<rect x="1144" y="195" width="1" height="20" fill="#00ff00" />
<rect x="1143" y="198" width="3" height="9" fill="#00ff00" />
<rect x="1148" y="190" width="1" height="18" fill="#ff0000" />
<rect x="1147" y="197" width="3" height="10" fill="#ff0000" />
<rect x="1152" y="196" width="1" height="25" fill="#00ff00" />
<rect x="1151" y="198" width="3" height="18" fill="#00ff00" />
<rect x="1156" y="206" width="1" height="36" fill="#00ff00" />
<rect x="1155" y="219" width="3" height="17" fill="#00ff00" />
<rect x="1160" y="229" width="1" height="13" fill="#00ff00" />
<rect x="1159" y="233" width="3" height="8" fill="#00ff00" />
<rect x="1164" y="229" width="1" height="39" fill="#00ff00" />
<rect x="1163" y="233" width="3" height="29" fill="#00ff00" />
<rect x="1168" y="236" width="1" height="47" fill="#00ff00" />
<rect x="1167" y="260" width="3" height="22" fill="#00ff00" />
<rect x="1172" y="265" width="1" height="36" fill="#00ff00" />
<rect x="1171" y="280" width="3" height="19" fill="#00ff00" />
<rect x="1176" y="272" width="1" height="28" fill="#ff0000" />
<rect x="1175" y="280" width="3" height="19" fill="#ff0000" />
<rect x="1180" y="258" width="1" height="35" fill="#00ff00" />
<rect x="1179" y="281" width="3" height="5" fill="#00ff00" />
<rect x="1184" y="283" width="1" height="5" fill="#00ff00" />
<rect x="1183" y="283" width="3" height="5" fill="#00ff00" />
<rect x="1188" y="261" width="1" height="50" fill="#ff0000" />
<rect x="1187" y="271" width="3" height="20" fill="#ff0000" />
<rect x="1192" y="254" width="1" height="34" fill="#ff0000" />
<rect x="1191" y="258" width="3" height="15" fill="#ff0000" />
<rect x="1196" y="253" width="1" height="19" fill="#00ff00" />
<rect x="1195" y="257" width="3" height="5" fill="#00ff00" />
<rect x="1200" y="187" width="1" height="75" fill="#ff0000" />
<rect x="1199" y="189" width="3" height="72" fill="#ff0000" />
<rect x="1204" y="177" width="1" height="60" fill="#00ff00" />
<rect x="1203" y="188" width="3" height="14" fill="#00ff00" />
<rect x="1208" y="196" width="1" height="11" fill="#ff0000" />
<rect x="1207" y="198" width="3" height="4" fill="#ff0000" />
<rect x="1212" y="197" width="1" height="38" fill="#00ff00" />
<rect x="1211" y="216" width="3" height="13" fill="#00ff00" />
<rect x="1216" y="184" width="1" height="49" fill="#ff0000" />
<rect x="1215" y="196" width="3" height="32" fill="#ff0000" />
<rect x="1220" y="152" width="1" height="59" fill="#ff0000" />
<rect x="1219" y="152" width="3" height="46" fill="#ff0000" />
<rect x="1224" y="75" width="1" height="80" fill="#ff0000" />
<rect x="1223" y="91" width="3" height="64" fill="#ff0000" />
<rect x="1228" y="78" width="1" height="87" fill="#00ff00" />
<rect x="1227" y="91" width="3" height="16" fill="#00ff00" />
<rect x="1232" y="99" width="1" height="13" fill="#ff0000" />
<rect x="1231" y="105" width="3" height="2" fill="#ff0000" />
<rect x="1236" y="87" width="1" height="58" fill="#00ff00" />
<rect x="1235" y="106" width="3" height="4" fill="#00ff00" />
<rect x="1240" y="104" width="1" height="61" fill="#00ff00" />
<rect x="1239" y="109" width="3" height="43" fill="#00ff00" />
<rect x="1244" y="96" width="1" height="78" fill="#ff0000" />
<rect x="1243" y="103" width="3" height="49" fill="#ff0000" />
<rect x="1248" y="98" width="1" height="51" fill="#00ff00" />
<rect x="1247" y="103" width="3" height="46" fill="#00ff00" />
<rect x="1252" y="118" width="1" height="49" fill="#ff0000" />
<rect x="1251" y="130" width="3" height="19" fill="#ff0000" />
<rect x="1256" y="126" width="1" height="21" fill="#00ff00" />
<rect x="1255" y="128" width="3" height="18" fill="#00ff00" />
<rect x="1260" y="114" width="1" height="30" fill="#ff0000" />
<rect x="1259" y="116" width="3" height="27" fill="#ff0000" />
<rect x="1264" y="115" width="1" height="39" fill="#00ff00" />
<rect x="1263" y="116" width="3" height="32" fill="#00ff00" />
<rect x="1268" y="134" width="1" height="20" fill="#ff0000" />
<rect x="1267" y="142" width="3" height="6" fill="#ff0000" />
</g>
<g shape-rendering="crispEdges">
<polyline points="4.5,481.7 8.5,483.9 12.5,484.0 16.5,483.9 20.5,483.4 24.5,482.0 28.5,481.2 32.5,480.3 36.5,480.2 40.5,479.6 44.5,479.4 48.5,479.3 52.5,479.3 56.5,479.4 60.5,479.3 64.5,479.3 68.5,479.1 72.5,478.9 76.5,479.3 80.5,479.7 84.5,480.4 88.5,480.7 92.5,481.8 96.5,481.7 100.5,481.6 104.5,481.5 108.5,480.9 112.5,480.3 116.5,479.0 120.5,478.3 124.5,478.0 128.5,477.5 132.5,476.7 136.5,476.7 140.5,476.5 144.5,476.5 148.5,476.1 152.5,475.6 156.5,469.8 160.5,464.6 164.5,458.9 168.5,452.8 172.5,445.9 176.5,438.8 180.5,432.2 184.5,425.6 188.5,419.2 192.5,413.3 196.5,407.0 200.5,400.8 204.5,394.7 208.5,388.4 212.5,380.9 216.5,374.2 220.5,367.4 224.5,360.8 228.5,354.8 232.5,348.9 236.5,343.7 240.5,338.0 244.5,331.8 248.5,325.7 252.5,319.8 256.5,313.8 260.5,308.2 264.5,302.4 268.5,296.4 272.5,290.5 276.5,289.9 280.5,289.7 284.5,289.8 288.5,291.6 292.5,293.7 296.5,296.1 300.5,298.1 304.5,299.8 308.5,301.3 312.5,302.8 316.5,304.2 320.5,305.6 324.5,306.8 328.5,308.0 332.5,309.5 336.5,311.0 340.5,312.1 344.5,313.2 348.5,314.3 352.5,315.4 356.5,317.0 360.5,318.6 364.5,320.4 368.5,322.4 372.5,324.3 376.5,325.7 380.5,327.4 384.5,328.8 388.5,330.4 392.5,332.0 396.5,333.5 400.5,334.1 404.5,335.0 408.5,334.6 412.5,334.3 416.5,333.9 420.5,333.3 424.5,332.9 428.5,332.7 432.5,331.8 436.5,328.8 440.5,325.6 444.5,318.6 448.5,313.4 452.5,307.4 456.5,301.7 460.5,295.6 464.5,289.7 468.5,283.4 472.5,279.7 476.5,274.3 480.5,269.0 484.5,264.1 488.5,259.1 492.5,253.5 496.5,247.7 500.5,242.0 504.5,235.8 508.5,228.4 512.5,220.8 516.5,212.1 520.5,203.7 524.5,194.8 528.5,186.5 532.5,178.1 536.5,169.6 540.5,160.7 544.5,152.0 548.5,144.3 552.5,137.3 556.5,133.0 560.5,129.3 564.5,128.5 568.5,126.9 572.5,126.1 576.5,126.1 580.5,128.2 584.5,129.7 588.5,130.7 592.5,128.5 596.5,127.7 600.5,126.1 604.5,124.9 608.5,122.7 612.5,121.1 616.5,119.8 620.5,117.8 624.5,116.6 628.5,116.4 632.5,116.0 636.5,116.9 640.5,117.4 644.5,118.0 648.5,118.5 652.5,119.9 656.5,121.6 660.5,123.3 664.5,124.1 668.5,124.3 672.5,125.4 676.5,126.4 680.5,127.2 684.5,128.7 688.5,129.5 692.5,129.9 696.5,129.4 700.5,128.0 704.5,127.1 708.5,127.0 712.5,127.4 716.5,127.8 720.5,128.7 724.5,129.6 728.5,131.6 732.5,133.2 736.5,134.7 740.5,137.1 744.5,139.6 748.5,142.6 752.5,145.8 756.5,149.2 760.5,153.6 764.5,158.1 768.5,162.8 772.5,166.4 776.5,169.9 780.5,173.5 784.5,177.8 788.5,181.2 792.5,183.4 796.5,185.7 800.5,187.9 804.5,189.2 808.5,190.7 812.5,192.5 816.5,194.0 820.5,194.9 824.5,195.8 828.5,196.9 832.5,198.6 836.5,200.0 840.5,201.1 844.5,201.9 848.5,202.5 852.5,203.0 856.5,202.6 860.5,202.8 864.5,202.9 868.5,203.1 872.5,203.7 876.5,203.4 880.5,202.6 884.5,201.6 888.5,201.5 892.5,200.9 896.5,200.5 900.5,201.1 904.5,201.7 908.5,202.5 912.5,203.4 916.5,203.6 920.5,203.7 924.5,204.2 928.5,205.0 932.5,205.9 936.5,207.3 940.5,208.9 944.5,210.5 948.5,212.1 952.5,213.8 956.5,215.6 960.5,217.9 964.5,219.8 968.5,221.9 972.5,224.1 976.5,228.1 980.5,231.2 984.5,234.7 988.5,238.3 992.5,241.7 996.5,246.2 1000.5,250.6 1004.5,254.8 1008.5,257.9 1012.5,262.5 1016.5,266.5 1020.5,270.2 1024.5,272.8 1028.5,275.4 1032.5,277.1 1036.5,279.1 1040.5,281.1 1044.5,281.8 1048.5,282.8 1052.5,284.0 1056.5,283.7 1060.5,283.4 1064.5,283.2 1068.5,282.0 1072.5,281.2 1076.5,280.9 1080.5,280.3 1084.5,279.2 1088.5,277.8 1092.5,277.3 1096.5,276.5 1100.5,275.6 1104.5,274.0 1108.5,271.5 1112.5,269.0 1116.5,266.1 1120.5,262.5 1124.5,259.0 1128.5,254.0 1132.5,248.8 1136.5,243.7 1140.5,238.9 1144.5,235.5 1148.5,231.9 1152.5,229.8 1156.5,228.1 1160.5,226.6 1164.5,227.4 1168.5,228.4 1172.5,229.8 1176.5,231.7 1180.5,233.7 1184.5,235.7 1188.5,237.8 1192.5,238.5 1196.5,238.8 1200.5,236.9 1204.5,236.2 1208.5,235.5 1212.5,235.3 1216.5,233.4 1220.5,230.2 1224.5,225.2 1228.5,221.1 1232.5,216.9 1236.5,212.6 1240.5,210.1 1244.5,206.3 1248.5,205.0 1252.5,203.0 1256.5,201.3 1260.5,198.5 1264.5,196.6 1268.5,194.7" fill="none" stroke="#0000cd" stroke-width="1" />
<polyline points="4.5,481.9 8.5,481.7 12.5,482.2 16.5,482.1 20.5,481.2 24.5,479.9 28.5,479.8 32.5,478.5 36.5,477.7 40.5,476.2 44.5,475.9 48.5,475.7 52.5,475.6 56.5,475.8 60.5,476.2 64.5,476.9 68.5,476.5 72.5,476.1 76.5,478.1 80.5,480.3 84.5,481.4 88.5,482.2 92.5,484.3 96.5,485.9 100.5,486.4 104.5,486.5 108.5,485.5 112.5,484.0 116.5,481.8 120.5,480.6 124.5,479.6 128.5,478.8 132.5,476.6 136.5,475.5 140.5,472.8 144.5,471.0 148.5,467.6 152.5,465.6 156.5,452.3 160.5,440.2 164.5,428.7 168.5,416.8 172.5,404.6 176.5,391.1 180.5,378.0 184.5,365.6 188.5,353.3 192.5,340.3 196.5,329.3 200.5,318.0 204.5,307.1 208.5,295.3 212.5,293.8 216.5,292.1 220.5,290.4 224.5,289.4 228.5,290.3 232.5,291.5 236.5,292.2 240.5,292.9 244.5,292.3 248.5,291.2 252.5,289.7 256.5,289.0 260.5,287.3 264.5,286.6 268.5,286.6 272.5,286.1 276.5,286.1 280.5,287.8 284.5,289.3 288.5,293.8 292.5,297.5 296.5,301.3 300.5,305.8 304.5,310.0 308.5,313.8 312.5,316.9 316.5,320.8 320.5,324.8 324.5,329.5 328.5,332.9 332.5,335.9 336.5,337.8 340.5,338.2 344.5,335.7 348.5,334.6 352.5,332.8 356.5,332.8 360.5,333.2 364.5,333.2 368.5,333.0 372.5,332.7 376.5,332.0 380.5,331.3 384.5,331.2 388.5,331.3 392.5,331.0 396.5,332.0 400.5,332.6 404.5,333.7 408.5,335.1 412.5,334.6 416.5,334.0 420.5,333.3 424.5,332.6 428.5,331.7 432.5,330.1 436.5,323.9 440.5,317.9 444.5,304.3 448.5,293.1 452.5,280.0 456.5,268.4 460.5,253.7 464.5,239.3 468.5,225.4 472.5,216.7 476.5,206.4 480.5,196.3 484.5,186.1 488.5,177.2 492.5,171.3 496.5,165.2 500.5,167.1 504.5,164.9 508.5,162.1 512.5,157.5 516.5,152.9 520.5,148.4 524.5,143.9 528.5,135.4 532.5,128.4 536.5,120.9 540.5,111.9 544.5,103.1 548.5,97.7 552.5,93.4 556.5,90.4 560.5,89.6 564.5,90.2 568.5,91.9 572.5,95.7 576.5,102.1 580.5,110.9 584.5,117.7 588.5,123.8 592.5,128.7 596.5,135.7 600.5,140.9 604.5,144.5 608.5,146.0 612.5,145.7 616.5,145.0 620.5,144.0 624.5,142.8 628.5,141.3 632.5,135.9 636.5,128.8 640.5,122.0 644.5,116.7 648.5,113.9 652.5,111.7 656.5,111.2 660.5,108.6 664.5,106.2 668.5,104.6 672.5,105.4 676.5,108.8 680.5,112.3 684.5,116.6 688.5,120.8 692.5,123.7 696.5,127.9 700.5,132.5 704.5,136.1 708.5,138.9 712.5,141.0 716.5,145.2 720.5,150.6 724.5,155.9 728.5,159.2 732.5,160.3 736.5,161.2 740.5,162.1 744.5,164.5 748.5,168.4 752.5,170.9 756.5,174.1 760.5,178.8 764.5,183.4 768.5,189.8 772.5,194.4 776.5,199.6 780.5,202.6 784.5,205.2 788.5,207.5 792.5,209.7 796.5,213.0 800.5,215.6 804.5,216.3 808.5,217.1 812.5,216.6 816.5,214.4 820.5,211.2 824.5,206.8 828.5,204.4 832.5,202.4 836.5,201.9 840.5,200.6 844.5,200.4 848.5,200.1 852.5,197.4 856.5,192.8 860.5,191.4 864.5,190.7 868.5,191.0 872.5,191.8 876.5,192.5 880.5,193.4 884.5,193.4 888.5,196.1 892.5,196.3 896.5,198.3 900.5,200.8 904.5,203.4 908.5,206.2 912.5,211.4 916.5,214.7 920.5,217.3 924.5,218.8 928.5,220.0 932.5,221.9 936.5,224.4 940.5,226.9 944.5,226.1 948.5,228.5 952.5,231.0 956.5,233.0 960.5,235.3 964.5,237.6 968.5,239.8 972.5,241.4 976.5,245.1 980.5,249.2 984.5,254.3 988.5,260.3 992.5,265.5 996.5,272.4 1000.5,279.3 1004.5,284.9 1008.5,290.6 1012.5,296.7 1016.5,302.6 1020.5,308.7 1024.5,312.3 1028.5,316.1 1032.5,316.4 1036.5,317.3 1040.5,316.8 1044.5,312.0 1048.5,308.1 1052.5,302.9 1056.5,295.3 1060.5,288.2 1064.5,280.3 1068.5,270.4 1072.5,262.5 1076.5,256.0 1080.5,251.5 1084.5,245.7 1088.5,241.2 1092.5,237.5 1096.5,235.3 1100.5,236.0 1104.5,235.3 1108.5,233.4 1112.5,234.0 1116.5,235.3 1120.5,235.0 1124.5,235.6 1128.5,232.2 1132.5,227.9 1136.5,224.1 1140.5,222.4 1144.5,221.6 1148.5,219.0 1152.5,216.2 1156.5,215.3 1160.5,215.2 1164.5,217.5 1168.5,221.0 1172.5,225.2 1176.5,229.2 1180.5,233.9 1184.5,241.1 1188.5,246.9 1192.5,251.4 1196.5,255.8 1200.5,254.6 1204.5,254.8 1208.5,253.6 1212.5,253.1 1216.5,249.9 1220.5,242.2 1224.5,228.6 1228.5,214.9 1232.5,202.4 1236.5,189.9 1240.5,180.1 1244.5,168.1 1248.5,160.3 1252.5,151.0 1256.5,147.8 1260.5,141.7 1264.5,138.1 1268.5,132.0" fill="none" stroke="#ff0000" stroke-width="1" />
<polyline points="4.5,483.6 8.5,480.5 12.5,479.7 16.5,477.3 20.5,472.4 24.5,469.6 28.5,470.3 32.5,469.2 36.5,470.3 40.5,471.8 44.5,477.0 48.5,478.2 52.5,480.1 56.5,481.6 60.5,483.7 64.5,483.2 68.5,482.0 72.5,478.9 76.5,478.9 80.5,481.0 84.5,483.1 88.5,485.0 92.5,493.2 96.5,493.5 100.5,494.0 104.5,492.3 108.5,489.4 112.5,480.8 116.5,472.4 120.5,467.1 124.5,462.8 128.5,460.2 132.5,458.2 136.5,463.3 140.5,461.1 144.5,460.9 148.5,461.7 152.5,462.7 156.5,429.0 160.5,401.0 164.5,371.0 168.5,338.5 172.5,301.6 176.5,295.7 180.5,288.8 184.5,283.6 188.5,280.5 192.5,283.1 196.5,288.1 200.5,292.8 204.5,297.9 208.5,300.2 212.5,298.7 216.5,297.0 220.5,293.6 224.5,288.8 228.5,287.8 232.5,289.3 236.5,289.0 240.5,290.7 244.5,288.7 248.5,285.6 252.5,283.1 256.5,283.8 260.5,282.4 264.5,284.4 268.5,285.7 272.5,287.0 276.5,285.6 280.5,290.1 284.5,295.1 288.5,309.6 292.5,321.0 296.5,333.1 300.5,339.0 304.5,343.5 308.5,339.1 312.5,338.1 316.5,337.0 320.5,337.7 324.5,340.5 328.5,340.3 332.5,338.7 336.5,337.7 340.5,332.5 344.5,326.9 348.5,325.8 352.5,324.4 356.5,325.1 360.5,329.7 364.5,332.0 368.5,333.8 372.5,336.9 376.5,335.5 380.5,335.2 384.5,334.6 388.5,333.9 392.5,332.8 396.5,332.5 400.5,330.4 404.5,332.7 408.5,335.1 412.5,335.2 416.5,335.4 420.5,334.2 424.5,330.9 428.5,327.4 432.5,322.8 436.5,306.8 440.5,291.4 444.5,254.6 448.5,224.7 452.5,192.4 456.5,175.1 460.5,153.1 464.5,153.2 468.5,145.5 472.5,158.2 476.5,160.7 480.5,170.0 484.5,178.4 488.5,188.1 492.5,179.6 496.5,176.0 500.5,172.8 504.5,165.1 508.5,150.0 512.5,136.5 516.5,118.7 520.5,100.9 524.5,86.7 528.5,83.4 532.5,79.1 536.5,80.4 540.5,76.0 544.5,73.9 548.5,74.2 552.5,78.1 556.5,87.5 560.5,102.8 564.5,114.0 568.5,120.2 572.5,125.1 576.5,133.7 580.5,146.5 584.5,160.1 588.5,168.3 592.5,172.7 596.5,170.0 600.5,157.8 604.5,149.4 608.5,140.2 612.5,135.2 616.5,128.9 620.5,122.7 624.5,115.5 628.5,111.9 632.5,106.0 636.5,101.0 640.5,98.3 644.5,95.0 648.5,96.2 652.5,102.4 656.5,108.7 660.5,112.0 664.5,110.9 668.5,109.1 672.5,111.0 676.5,115.9 680.5,125.8 684.5,141.1 688.5,151.3 692.5,152.3 696.5,152.0 700.5,151.6 704.5,150.7 708.5,153.2 712.5,157.2 716.5,160.4 720.5,161.8 724.5,164.5 728.5,167.7 732.5,170.0 736.5,170.3 740.5,173.1 744.5,175.6 748.5,178.3 752.5,181.7 756.5,187.9 760.5,197.5 764.5,205.9 768.5,217.1 772.5,226.1 776.5,233.0 780.5,231.3 784.5,228.7 788.5,219.4 792.5,213.2 796.5,210.8 800.5,211.9 804.5,209.4 808.5,208.7 812.5,207.1 816.5,201.2 820.5,193.7 824.5,190.7 828.5,190.3 832.5,193.4 836.5,196.4 840.5,198.8 844.5,201.3 848.5,201.3 852.5,196.8 856.5,186.4 860.5,183.8 864.5,181.5 868.5,181.8 872.5,185.6 876.5,192.9 880.5,196.3 884.5,197.8 888.5,207.5 892.5,209.0 896.5,215.2 900.5,222.1 904.5,229.3 908.5,225.3 912.5,228.6 916.5,229.6 920.5,227.6 924.5,224.9 928.5,224.1 932.5,222.2 936.5,223.5 940.5,224.8 944.5,228.0 948.5,232.9 952.5,240.5 956.5,246.3 960.5,252.6 964.5,257.6 968.5,260.2 972.5,258.9 976.5,261.5 980.5,264.0 984.5,270.6 988.5,279.8 992.5,290.8 996.5,301.1 1000.5,312.2 1004.5,318.6 1008.5,325.3 1012.5,333.7 1016.5,337.3 1020.5,339.8 1024.5,336.9 1028.5,330.4 1032.5,316.8 1036.5,304.9 1040.5,293.4 1044.5,279.1 1048.5,268.3 1052.5,263.3 1056.5,250.8 1060.5,238.4 1064.5,236.5 1068.5,228.3 1072.5,224.0 1076.5,229.7 1080.5,234.3 1084.5,233.6 1088.5,234.9 1092.5,234.9 1096.5,235.3 1100.5,235.7 1104.5,239.1 1108.5,241.6 1112.5,241.2 1116.5,238.4 1120.5,233.6 1124.5,229.1 1128.5,220.5 1132.5,212.4 1136.5,203.1 1140.5,198.2 1144.5,195.7 1148.5,198.0 1152.5,202.7 1156.5,211.0 1160.5,219.1 1164.5,230.1 1168.5,246.9 1172.5,263.6 1176.5,272.5 1180.5,281.5 1184.5,286.7 1188.5,284.7 1192.5,276.5 1196.5,272.6 1200.5,253.5 1204.5,236.3 1208.5,221.6 1212.5,215.6 1216.5,202.7 1220.5,195.4 1224.5,173.4 1228.5,155.1 1232.5,130.6 1236.5,113.3 1240.5,113.0 1244.5,115.4 1248.5,123.7 1252.5,128.7 1256.5,135.8 1260.5,128.8 1264.5,137.6 1268.5,136.5" fill="none" stroke="#ffa500" stroke-width="1" />
<rect x="4" y="40" width="1593" height="2" fill="#ff0000" />
<rect x="4" y="132" width="1593" height="2" fill="#ff0000" />
<rect x="4" y="222" width="1593" height="2" fill="#00ff00" />
<rect x="4" y="329" width="1593" height="2" fill="#0000ff" />
<rect x="4" y="438" width="1593" height="2" fill="#0000ff" />
</g>
<g shape-rendering="crispEdges">
<line x1="5" x2="1596" y1="559.5" y2="559.5" stroke="#c0c0c0" stroke-dasharray="3 3"/>
<line x1="5" x2="1596" y1="595.5" y2="595.5" stroke="#c0c0c0" stroke-dasharray="3 3"/>
<polyline points="4.5,574.1 8.5,574.5 12.5,581.0 16.5,576.3 20.5,568.0 24.5,567.0 28.5,578.6 32.5,578.2 36.5,581.1 40.5,573.8 44.5,582.0 48.5,580.9 52.5,582.3 56.5,583.7 60.5,578.1 64.5,579.9 68.5,576.8 72.5,573.3 76.5,582.6 80.5,583.0 84.5,584.3 88.5,580.9 92.5,590.3 96.5,580.3 100.5,581.0 104.5,577.6 108.5,573.0 112.5,571.5 116.5,565.2 120.5,572.8 124.5,571.8 128.5,570.7 132.5,570.3 136.5,577.1 140.5,570.7 144.5,573.3 148.5,574.2 152.5,573.9 156.5,549.1 160.5,551.9 164.5,551.6 168.5,550.8 172.5,549.0 176.5,548.8 180.5,550.3 184.5,552.3 188.5,552.3 192.5,554.6 196.5,558.1 200.5,559.2 204.5,562.2 208.5,559.7 212.5,557.5 216.5,560.8 220.5,559.8 224.5,560.1 228.5,562.2 232.5,562.1 236.5,561.8 240.5,564.2 244.5,559.8 248.5,559.6 252.5,561.1 256.5,568.6 260.5,566.9 264.5,566.7 268.5,565.2 272.5,566.5 276.5,567.5 280.5,579.1 284.5,579.9 288.5,592.6 292.5,587.3 296.5,588.7 300.5,585.6 304.5,583.7 308.5,582.7 312.5,584.0 316.5,585.8 320.5,586.2 324.5,588.0 328.5,579.9 332.5,578.7 336.5,582.0 340.5,574.1 344.5,575.4 348.5,577.5 352.5,575.9 356.5,583.1 360.5,583.1 364.5,579.4 368.5,580.3 372.5,581.6 376.5,579.4 380.5,581.9 384.5,577.4 388.5,577.8 392.5,578.7 396.5,578.2 400.5,576.6 404.5,583.2 408.5,583.8 412.5,578.1 416.5,577.9 420.5,572.6 424.5,573.7 428.5,574.0 432.5,566.6 436.5,552.2 440.5,551.1 444.5,542.6 448.5,553.9 452.5,551.6 456.5,556.6 460.5,553.8 464.5,555.3 468.5,554.9 472.5,571.8 476.5,567.6 480.5,568.3 484.5,568.4 488.5,569.0 492.5,566.6 496.5,565.4 500.5,566.9 504.5,563.6 508.5,559.4 512.5,558.5 516.5,555.5 520.5,557.2 524.5,556.7 528.5,562.2 532.5,560.6 536.5,560.3 540.5,557.6 544.5,559.5 548.5,568.2 552.5,569.7 556.5,575.3 560.5,577.1 564.5,574.2 568.5,575.8 572.5,575.5 576.5,584.5 580.5,589.2 584.5,586.8 588.5,582.0 592.5,577.9 596.5,579.3 600.5,575.7 604.5,577.6 608.5,572.8 612.5,573.0 616.5,573.3 620.5,569.8 624.5,570.8 628.5,569.5 632.5,567.4 636.5,569.1 640.5,567.8 644.5,568.1 648.5,573.5 652.5,577.8 656.5,579.4 660.5,573.6 664.5,568.7 668.5,572.6 672.5,581.0 676.5,585.0 680.5,585.9 684.5,587.1 688.5,583.4 692.5,579.8 696.5,582.9 700.5,583.9 704.5,584.7 708.5,585.6 712.5,583.9 716.5,586.2 720.5,584.5 724.5,587.2 728.5,588.7 732.5,584.9 736.5,584.7 740.5,586.9 744.5,589.3 748.5,591.3 752.5,588.3 756.5,592.0 760.5,597.1 764.5,597.7 768.5,601.2 772.5,593.4 776.5,594.3 780.5,586.6 784.5,586.2 788.5,581.5 792.5,581.1 796.5,587.2 800.5,586.6 804.5,579.7 808.5,578.4 812.5,576.7 816.5,577.0 820.5,573.6 824.5,575.0 828.5,578.4 832.5,582.4 836.5,582.7 840.5,577.5 844.5,578.9 848.5,577.4 852.5,573.5 856.5,564.8 860.5,574.7 864.5,576.3 868.5,579.3 872.5,581.5 876.5,577.5 880.5,579.7 884.5,578.3 888.5,590.8 892.5,581.0 896.5,583.4 900.5,585.6 904.5,584.7 908.5,582.9 912.5,583.8 916.5,583.5 920.5,582.2 924.5,579.9 928.5,581.0 932.5,580.4 936.5,585.0 940.5,583.7 944.5,584.5 948.5,588.2 952.5,591.5 956.5,592.8 960.5,592.5 964.5,590.2 968.5,590.2 972.5,586.3 976.5,593.8 980.5,593.2 984.5,597.1 988.5,599.8 992.5,600.2 996.5,603.7 1000.5,604.1 1004.5,600.1 1008.5,602.6 1012.5,604.3 1016.5,602.7 1020.5,600.9 1024.5,584.6 1028.5,583.4 1032.5,575.0 1036.5,577.0 1040.5,576.4 1044.5,564.6 1048.5,569.1 1052.5,570.5 1056.5,564.1 1060.5,564.0 1064.5,565.5 1068.5,562.2 1072.5,570.0 1076.5,575.0 1080.5,573.6 1084.5,568.9 1088.5,567.4 1092.5,572.5 1096.5,577.6 1100.5,576.2 1104.5,574.4 1108.5,571.7 1112.5,572.5 1116.5,575.0 1120.5,571.0 1124.5,569.6 1128.5,563.2 1132.5,564.8 1136.5,565.7 1140.5,567.8 1144.5,570.1 1148.5,568.0 1152.5,574.0 1156.5,579.8 1160.5,581.0 1164.5,586.2 1168.5,590.3 1172.5,593.4 1176.5,587.4 1180.5,588.3 1184.5,588.7 1188.5,583.6 1192.5,579.6 1196.5,580.4 1200.5,565.1 1204.5,568.2 1208.5,567.7 1212.5,575.0 1216.5,569.4 1220.5,563.3 1224.5,557.2 1228.5,560.5 1232.5,560.4 1236.5,561.4 1240.5,570.2 1244.5,564.5 1248.5,572.2 1252.5,570.1 1256.5,572.5 1260.5,568.9 1264.5,573.9 1268.5,573.3" fill="none" stroke="#1e90ff" stroke-width="1"/>
<rect x="4" y="682" width="1" height="6" fill="#c0c0c0" />
<rect x="8" y="682" width="1" height="5" fill="#c0c0c0" />
<rect x="12" y="682" width="1" height="4" fill="#c0c0c0" />
<rect x="16" y="682" width="1" height="4" fill="#c0c0c0" />
<rect x="20" y="682" width="1" height="2" fill="#c0c0c0" />
<rect x="24" y="682" width="1" height="1" fill="#c0c0c0" />
<rect x="28" y="682" width="1" height="1" fill="#c0c0c0" />
<rect x="32" y="682" width="1" height="1" fill="#c0c0c0" />
<rect x="36" y="682" width="1" height="1" fill="#c0c0c0" />
<rect x="40" y="682" width="1" height="1" fill="#c0c0c0" />
<rect x="44" y="682" width="1" height="1" fill="#c0c0c0" />
<rect x="48" y="682" width="1" height="2" fill="#c0c0c0" />
<rect x="52" y="682" width="1" height="2" fill="#c0c0c0" />
<rect x="56" y="682" width="1" height="3" fill="#c0c0c0" />
<rect x="60" y="682" width="1" height="3" fill="#c0c0c0" />
<rect x="64" y="682" width="1" height="3" fill="#c0c0c0" />
<rect x="68" y="682" width="1" height="2" fill="#c0c0c0" />
<rect x="72" y="682" width="1" height="1" fill="#c0c0c0" />
<rect x="76" y="682" width="1" height="2" fill="#c0c0c0" />
<rect x="80" y="682" width="1" height="3" fill="#c0c0c0" />
<rect x="84" y="682" width="1" height="3" fill="#c0c0c0" />
<rect x="88" y="682" width="1" height="3" fill="#c0c0c0" />
<rect x="92" y="682" width="1" height="5" fill="#c0c0c0" />
<rect x="96" y="682" width="1" height="5" fill="#c0c0c0" />
<rect x="100" y="682" width="1" height="5" fill="#c0c0c0" />
<rect x="104" y="682" width="1" height="4" fill="#c0c0c0" />
<rect x="108" y="682" width="1" height="3" fill="#c0c0c0" />
<rect x="112" y="682" width="1" height="1" fill="#c0c0c0" />
<rect x="116" y="680" width="1" height="3" fill="#c0c0c0" />
<rect x="120" y="680" width="1" height="3" fill="#c0c0c0" />
<rect x="124" y="679" width="1" height="4" fill="#c0c0c0" />
<rect x="128" y="678" width="1" height="5" fill="#c0c0c0" />
<rect x="132" y="677" width="1" height="6" fill="#c0c0c0" />
<rect x="136" y="678" width="1" height="5" fill="#c0c0c0" />
<rect x="140" y="677" width="1" height="6" fill="#c0c0c0" />
<rect x="144" y="677" width="1" height="6" fill="#c0c0c0" />
<rect x="148" y="677" width="1" height="6" fill="#c0c0c0" />
<rect x="152" y="677" width="1" height="6" fill="#c0c0c0" />
<rect x="156" y="665" width="1" height="18" fill="#c0c0c0" />
<rect x="160" y="656" width="1" height="27" fill="#c0c0c0" />
<rect x="164" y="649" width="1" height="34" fill="#c0c0c0" />
<rect x="168" y="643" width="1" height="40" fill="#c0c0c0" />
<rect x="172" y="637" width="1" height="46" fill="#c0c0c0" />
<rect x="176" y="633" width="1" height="50" fill="#c0c0c0" />
<rect x="180" y="631" width="1" height="52" fill="#c0c0c0" />
<rect x="184" y="630" width="1" height="53" fill="#c0c0c0" />
<rect x="188" y="630" width="1" height="53" fill="#c0c0c0" />
<rect x="192" y="631" width="1" height="52" fill="#c0c0c0" />
<rect x="196" y="633" width="1" height="50" fill="#c0c0c0" />
<rect x="200" y="635" width="1" height="48" fill="#c0c0c0" />
<rect x="204" y="638" width="1" height="45" fill="#c0c0c0" />
<rect x="208" y="640" width="1" height="43" fill="#c0c0c0" />
<rect x="212" y="641" width="1" height="42" fill="#c0c0c0" />
<rect x="216" y="643" width="1" height="40" fill="#c0c0c0" />
<rect x="220" y="644" width="1" height="39" fill="#c0c0c0" />
<rect x="224" y="646" width="1" height="37" fill="#c0c0c0" />
<rect x="228" y="648" width="1" height="35" fill="#c0c0c0" />
<rect x="232" y="650" width="1" height="33" fill="#c0c0c0" />
<rect x="236" y="651" width="1" height="32" fill="#c0c0c0" />
<rect x="240" y="654" width="1" height="29" fill="#c0c0c0" />
<rect x="244" y="654" width="1" height="29" fill="#c0c0c0" />
<rect x="248" y="655" width="1" height="28" fill="#c0c0c0" />
<rect x="252" y="656" width="1" height="27" fill="#c0c0c0" />
<rect x="256" y="658" width="1" height="25" fill="#c0c0c0" />
<rect x="260" y="660" width="1" height="23" fill="#c0c0c0" />
<rect x="264" y="661" width="1" height="22" fill="#c0c0c0" />
<rect x="268" y="663" width="1" height="20" fill="#c0c0c0" />
<rect x="272" y="664" width="1" height="19" fill="#c0c0c0" />
<rect x="276" y="665" width="1" height="18" fill="#c0c0c0" />
<rect x="280" y="668" width="1" height="15" fill="#c0c0c0" />
<rect x="284" y="671" width="1" height="12" fill="#c0c0c0" />
<rect x="288" y="677" width="1" height="6" fill="#c0c0c0" />
<rect x="292" y="680" width="1" height="3" fill="#c0c0c0" />
<rect x="296" y="682" width="1" height="1" fill="#c0c0c0" />
<rect x="300" y="682" width="1" height="3" fill="#c0c0c0" />
<rect x="304" y="682" width="1" height="4" fill="#c0c0c0" />
<rect x="308" y="682" width="1" height="5" fill="#c0c0c0" />
<rect x="312" y="682" width="1" height="6" fill="#c0c0c0" />
<rect x="316" y="682" width="1" height="7" fill="#c0c0c0" />
<rect x="320" y="682" width="1" height="7" fill="#c0c0c0" />
<rect x="324" y="682" width="1" height="8" fill="#c0c0c0" />
<rect x="328" y="682" width="1" height="8" fill="#c0c0c0" />
<rect x="332" y="682" width="1" height="7" fill="#c0c0c0" />
<rect x="336" y="682" width="1" height="7" fill="#c0c0c0" />
<rect x="340" y="682" width="1" height="5" fill="#c0c0c0" />
<rect x="344" y="682" width="1" height="4" fill="#c0c0c0" />
<rect x="348" y="682" width="1" height="3" fill="#c0c0c0" />
<rect x="352" y="682" width="1" height="3" fill="#c0c0c0" />
<rect x="356" y="682" width="1" height="4" fill="#c0c0c0" />
<rect x="360" y="682" width="1" height="4" fill="#c0c0c0" />
<rect x="364" y="682" width="1" height="4" fill="#c0c0c0" />
<rect x="368" y="682" width="1" height="4" fill="#c0c0c0" />
<rect x="372" y="682" width="1" height="4" fill="#c0c0c0" />
<rect x="376" y="682" width="1" height="4" fill="#c0c0c0" />
<rect x="380" y="682" width="1" height="4" fill="#c0c0c0" />
<rect x="384" y="682" width="1" height="4" fill="#c0c0c0" />
<rect x="388" y="682" width="1" height="3" fill="#c0c0c0" />
<rect x="392" y="682" width="1" height="3" fill="#c0c0c0" />
<rect x="396" y="682" width="1" height="3" fill="#c0c0c0" />
<rect x="400" y="682" width="1" height="2" fill="#c0c0c0" />
<rect x="404" y="682" width="1" height="3" fill="#c0c0c0" />
<rect x="408" y="682" width="1" height="3" fill="#c0c0c0" />
<rect x="412" y="682" width="1" height="3" fill="#c0c0c0" />
<rect x="416" y="682" width="1" height="3" fill="#c0c0c0" />
<rect x="420" y="682" width="1" height="2" fill="#c0c0c0" />
<rect x="424" y="682" width="1" height="1" fill="#c0c0c0" />
<rect x="428" y="682" width="1" height="1" fill="#c0c0c0" />
<rect x="432" y="681" width="1" height="2" fill="#c0c0c0" />
<rect x="436" y="675" width="1" height="8" fill="#c0c0c0" />
<rect x="440" y="670" width="1" height="13" fill="#c0c0c0" />
<rect x="444" y="658" width="1" height="25" fill="#c0c0c0" />
<rect x="448" y="651" width="1" height="32" fill="#c0c0c0" />
<rect x="452" y="644" width="1" height="39" fill="#c0c0c0" />
<rect x="456" y="641" width="1" height="42" fill="#c0c0c0" />
<rect x="460" y="636" width="1" height="47" fill="#c0c0c0" />
<rect x="464" y="633" width="1" height="50" fill="#c0c0c0" />
<rect x="468" y="631" width="1" height="52" fill="#c0c0c0" />
<rect x="472" y="636" width="1" height="47" fill="#c0c0c0" />
<rect x="476" y="638" width="1" height="45" fill="#c0c0c0" />
<rect x="480" y="641" width="1" height="42" fill="#c0c0c0" />
<rect x="484" y="643" width="1" height="40" fill="#c0c0c0" />
<rect x="488" y="645" width="1" height="38" fill="#c0c0c0" />
<rect x="492" y="646" width="1" height="37" fill="#c0c0c0" />
<rect x="496" y="647" width="1" height="36" fill="#c0c0c0" />
<rect x="500" y="648" width="1" height="35" fill="#c0c0c0" />
<rect x="504" y="648" width="1" height="35" fill="#c0c0c0" />
<rect x="508" y="645" width="1" height="38" fill="#c0c0c0" />
<rect x="512" y="643" width="1" height="40" fill="#c0c0c0" />
<rect x="516" y="639" width="1" height="44" fill="#c0c0c0" />
<rect x="520" y="637" width="1" height="46" fill="#c0c0c0" />
<rect x="524" y="636" width="1" height="47" fill="#c0c0c0" />
<rect x="528" y="637" width="1" height="46" fill="#c0c0c0" />
<rect x="532" y="637" width="1" height="46" fill="#c0c0c0" />
<rect x="536" y="638" width="1" height="45" fill="#c0c0c0" />
<rect x="540" y="637" width="1" height="46" fill="#c0c0c0" />
<rect x="544" y="637" width="1" height="46" fill="#c0c0c0" />
<rect x="548" y="641" width="1" height="42" fill="#c0c0c0" />
<rect x="552" y="644" width="1" height="39" fill="#c0c0c0" />
<rect x="556" y="650" width="1" height="33" fill="#c0c0c0" />
<rect x="560" y="655" width="1" height="28" fill="#c0c0c0" />
<rect x="564" y="658" width="1" height="25" fill="#c0c0c0" />
<rect x="568" y="661" width="1" height="22" fill="#c0c0c0" />
<rect x="572" y="664" width="1" height="19" fill="#c0c0c0" />
<rect x="576" y="670" width="1" height="13" fill="#c0c0c0" />
<rect x="580" y="677" width="1" height="6" fill="#c0c0c0" />
<rect x="584" y="682" width="1" height="1" fill="#c0c0c0" />
<rect x="588" y="682" width="1" height="2" fill="#c0c0c0" />
<rect x="592" y="682" width="1" height="2" fill="#c0c0c0" />
<rect x="596" y="682" width="1" height="2" fill="#c0c0c0" />
<rect x="600" y="682" width="1" height="1" fill="#c0c0c0" />
<rect x="604" y="682" width="1" height="1" fill="#c0c0c0" />
<rect x="608" y="681" width="1" height="2" fill="#c0c0c0" />
<rect x="612" y="680" width="1" height="3" fill="#c0c0c0" />
<rect x="616" y="679" width="1" height="4" fill="#c0c0c0" />
<rect x="620" y="677" width="1" height="6" fill="#c0c0c0" />
<rect x="624" y="675" width="1" height="8" fill="#c0c0c0" />
<rect x="628" y="674" width="1" height="9" fill="#c0c0c0" />
<rect x="632" y="672" width="1" height="11" fill="#c0c0c0" />
<rect x="636" y="671" width="1" height="12" fill="#c0c0c0" />
<rect x="640" y="670" width="1" height="13" fill="#c0c0c0" />
<rect x="644" y="669" width="1" height="14" fill="#c0c0c0" />
<rect x="648" y="670" width="1" height="13" fill="#c0c0c0" />
<rect x="652" y="672" width="1" height="11" fill="#c0c0c0" />
<rect x="656" y="675" width="1" height="8" fill="#c0c0c0" />
<rect x="660" y="675" width="1" height="8" fill="#c0c0c0" />
<rect x="664" y="673" width="1" height="10" fill="#c0c0c0" />
<rect x="668" y="673" width="1" height="10" fill="#c0c0c0" />
<rect x="672" y="676" width="1" height="7" fill="#c0c0c0" />
<rect x="676" y="680" width="1" height="3" fill="#c0c0c0" />
<rect x="680" y="682" width="1" height="1" fill="#c0c0c0" />
<rect x="684" y="682" width="1" height="4" fill="#c0c0c0" />
<rect x="688" y="682" width="1" height="6" fill="#c0c0c0" />
<rect x="692" y="682" width="1" height="6" fill="#c0c0c0" />
<rect x="696" y="682" width="1" height="7" fill="#c0c0c0" />
<rect x="700" y="682" width="1" height="8" fill="#c0c0c0" />
<rect x="704" y="682" width="1" height="9" fill="#c0c0c0" />
<rect x="708" y="682" width="1" height="10" fill="#c0c0c0" />
<rect x="712" y="682" width="1" height="10" fill="#c0c0c0" />
<rect x="716" y="682" width="1" height="11" fill="#c0c0c0" />
<rect x="720" y="682" width="1" height="11" fill="#c0c0c0" />
<rect x="724" y="682" width="1" height="12" fill="#c0c0c0" />
<rect x="728" y="682" width="1" height="13" fill="#c0c0c0" />
<rect x="732" y="682" width="1" height="13" fill="#c0c0c0" />
<rect x="736" y="682" width="1" height="13" fill="#c0c0c0" />
<rect x="740" y="682" width="1" height="13" fill="#c0c0c0" />
<rect x="744" y="682" width="1" height="14" fill="#c0c0c0" />
<rect x="748" y="682" width="1" height="15" fill="#c0c0c0" />
<rect x="752" y="682" width="1" height="15" fill="#c0c0c0" />
<rect x="756" y="682" width="1" height="16" fill="#c0c0c0" />
<rect x="760" y="682" width="1" height="18" fill="#c0c0c0" />
<rect x="764" y="682" width="1" height="20" fill="#c0c0c0" />
<rect x="768" y="682" width="1" height="24" fill="#c0c0c0" />
<rect x="772" y="682" width="1" height="24" fill="#c0c0c0" />
<rect x="776" y="682" width="1" height="25" fill="#c0c0c0" />
<rect x="780" y="682" width="1" height="24" fill="#c0c0c0" />
<rect x="784" y="682" width="1" height="22" fill="#c0c0c0" />
<rect x="788" y="682" width="1" height="20" fill="#c0c0c0" />
<rect x="792" y="682" width="1" height="18" fill="#c0c0c0" />
<rect x="796" y="682" width="1" height="18" fill="#c0c0c0" />
<rect x="800" y="682" width="1" height="17" fill="#c0c0c0" />
<rect x="804" y="682" width="1" height="15" fill="#c0c0c0" />
<rect x="808" y="682" width="1" height="13" fill="#c0c0c0" />
<rect x="812" y="682" width="1" height="11" fill="#c0c0c0" />
<rect x="816" y="682" width="1" height="9" fill="#c0c0c0" />
<rect x="820" y="682" width="1" height="7" fill="#c0c0c0" />
<rect x="824" y="682" width="1" height="5" fill="#c0c0c0" />
<rect x="828" y="682" width="1" height="5" fill="#c0c0c0" />
<rect x="832" y="682" width="1" height="5" fill="#c0c0c0" />
<rect x="836" y="682" width="1" height="5" fill="#c0c0c0" />
<rect x="840" y="682" width="1" height="5" fill="#c0c0c0" />
<rect x="844" y="682" width="1" height="4" fill="#c0c0c0" />
<rect x="848" y="682" width="1" height="4" fill="#c0c0c0" />
<rect x="852" y="682" width="1" height="2" fill="#c0c0c0" />
<rect x="856" y="681" width="1" height="2" fill="#c0c0c0" />
<rect x="860" y="680" width="1" height="3" fill="#c0c0c0" />
<rect x="864" y="680" width="1" height="3" fill="#c0c0c0" />
<rect x="868" y="681" width="1" height="2" fill="#c0c0c0" />
<rect x="872" y="682" width="1" height="1" fill="#c0c0c0" />
<rect x="876" y="682" width="1" height="1" fill="#c0c0c0" />
<rect x="880" y="682" width="1" height="1" fill="#c0c0c0" />
<rect x="884" y="682" width="1" height="1" fill="#c0c0c0" />
<rect x="888" y="682" width="1" height="5" fill="#c0c0c0" />
<rect x="892" y="682" width="1" height="6" fill="#c0c0c0" />
<rect x="896" y="682" width="1" height="7" fill="#c0c0c0" />
<rect x="900" y="682" width="1" height="9" fill="#c0c0c0" />
<rect x="904" y="682" width="1" height="10" fill="#c0c0c0" />
<rect x="908" y="682" width="1" height="10" fill="#c0c0c0" />
<rect x="912" y="682" width="1" height="10" fill="#c0c0c0" />
<rect x="916" y="682" width="1" height="10" fill="#c0c0c0" />
<rect x="920" y="682" width="1" height="10" fill="#c0c0c0" />
<rect x="924" y="682" width="1" height="9" fill="#c0c0c0" />
<rect x="928" y="682" width="1" height="9" fill="#c0c0c0" />
<rect x="932" y="682" width="1" height="8" fill="#c0c0c0" />
<rect x="936" y="682" width="1" height="9" fill="#c0c0c0" />
<rect x="940" y="682" width="1" height="9" fill="#c0c0c0" />
<rect x="944" y="682" width="1" height="9" fill="#c0c0c0" />
<rect x="948" y="682" width="1" height="10" fill="#c0c0c0" />
<rect x="952" y="682" width="1" height="12" fill="#c0c0c0" />
<rect x="956" y="682" width="1" height="13" fill="#c0c0c0" />
<rect x="960" y="682" width="1" height="14" fill="#c0c0c0" />
<rect x="964" y="682" width="1" height="15" fill="#c0c0c0" />
<rect x="968" y="682" width="1" height="15" fill="#c0c0c0" />
<rect x="972" y="682" width="1" height="14" fill="#c0c0c0" />
<rect x="976" y="682" width="1" height="15" fill="#c0c0c0" />
<rect x="980" y="682" width="1" height="16" fill="#c0c0c0" />
<rect x="984" y="682" width="1" height="18" fill="#c0c0c0" />
<rect x="988" y="682" width="1" height="20" fill="#c0c0c0" />
<rect x="992" y="682" width="1" height="22" fill="#c0c0c0" />
<rect x="996" y="682" width="1" height="25" fill="#c0c0c0" />
<rect x="1000" y="682" width="1" height="27" fill="#c0c0c0" />
<rect x="1004" y="682" width="1" height="27" fill="#c0c0c0" />
<rect x="1008" y="682" width="1" height="29" fill="#c0c0c0" />
<rect x="1012" y="682" width="1" height="31" fill="#c0c0c0" />
<rect x="1016" y="682" width="1" height="31" fill="#c0c0c0" />
<rect x="1020" y="682" width="1" height="31" fill="#c0c0c0" />
<rect x="1024" y="682" width="1" height="28" fill="#c0c0c0" />
<rect x="1028" y="682" width="1" height="25" fill="#c0c0c0" />
<rect x="1032" y="682" width="1" height="21" fill="#c0c0c0" />
<rect x="1036" y="682" width="1" height="17" fill="#c0c0c0" />
<rect x="1040" y="682" width="1" height="14" fill="#c0c0c0" />
<rect x="1044" y="682" width="1" height="8" fill="#c0c0c0" />
<rect x="1048" y="682" width="1" height="4" fill="#c0c0c0" />
<rect x="1052" y="682" width="1" height="1" fill="#c0c0c0" />
<rect x="1056" y="679" width="1" height="4" fill="#c0c0c0" />
<rect x="1060" y="675" width="1" height="8" fill="#c0c0c0" />
<rect x="1064" y="673" width="1" height="10" fill="#c0c0c0" />
<rect x="1068" y="669" width="1" height="14" fill="#c0c0c0" />
<rect x="1072" y="669" width="1" height="14" fill="#c0c0c0" />
<rect x="1076" y="670" width="1" height="13" fill="#c0c0c0" />
<rect x="1080" y="671" width="1" height="12" fill="#c0c0c0" />
<rect x="1084" y="670" width="1" height="13" fill="#c0c0c0" />
<rect x="1088" y="668" width="1" height="15" fill="#c0c0c0" />
<rect x="1092" y="669" width="1" height="14" fill="#c0c0c0" />
<rect x="1096" y="671" width="1" height="12" fill="#c0c0c0" />
<rect x="1100" y="672" width="1" height="11" fill="#c0c0c0" />
<rect x="1104" y="673" width="1" height="10" fill="#c0c0c0" />
<rect x="1108" y="673" width="1" height="10" fill="#c0c0c0" />
<rect x="1112" y="673" width="1" height="10" fill="#c0c0c0" />
<rect x="1116" y="674" width="1" height="9" fill="#c0c0c0" />
<rect x="1120" y="673" width="1" height="10" fill="#c0c0c0" />
<rect x="1124" y="672" width="1" height="11" fill="#c0c0c0" />
<rect x="1128" y="669" width="1" height="14" fill="#c0c0c0" />
<rect x="1132" y="667" width="1" height="16" fill="#c0c0c0" />
<rect x="1136" y="666" width="1" height="17" fill="#c0c0c0" />
<rect x="1140" y="666" width="1" height="17" fill="#c0c0c0" />
<rect x="1144" y="667" width="1" height="16" fill="#c0c0c0" />
<rect x="1148" y="667" width="1" height="16" fill="#c0c0c0" />
<rect x="1152" y="668" width="1" height="15" fill="#c0c0c0" />
<rect x="1156" y="671" width="1" height="12" fill="#c0c0c0" />
<rect x="1160" y="674" width="1" height="9" fill="#c0c0c0" />
<rect x="1164" y="678" width="1" height="5" fill="#c0c0c0" />
<rect x="1168" y="682" width="1" height="1" fill="#c0c0c0" />
<rect x="1172" y="682" width="1" height="6" fill="#c0c0c0" />
<rect x="1176" y="682" width="1" height="8" fill="#c0c0c0" />
<rect x="1180" y="682" width="1" height="11" fill="#c0c0c0" />
<rect x="1184" y="682" width="1" height="12" fill="#c0c0c0" />
<rect x="1188" y="682" width="1" height="12" fill="#c0c0c0" />
<rect x="1192" y="682" width="1" height="11" fill="#c0c0c0" />
<rect x="1196" y="682" width="1" height="10" fill="#c0c0c0" />
<rect x="1200" y="682" width="1" height="4" fill="#c0c0c0" />
<rect x="1204" y="682" width="1" height="1" fill="#c0c0c0" />
<rect x="1208" y="678" width="1" height="5" fill="#c0c0c0" />
<rect x="1212" y="678" width="1" height="5" fill="#c0c0c0" />
<rect x="1216" y="675" width="1" height="8" fill="#c0c0c0" />
<rect x="1220" y="670" width="1" height="13" fill="#c0c0c0" />
<rect x="1224" y="661" width="1" height="22" fill="#c0c0c0" />
<rect x="1228" y="655" width="1" height="28" fill="#c0c0c0" />
<rect x="1232" y="651" width="1" height="32" fill="#c0c0c0" />
<rect x="1236" y="648" width="1" height="35" fill="#c0c0c0" />
<rect x="1240" y="650" width="1" height="33" fill="#c0c0c0" />
<rect x="1244" y="648" width="1" height="35" fill="#c0c0c0" />
<rect x="1248" y="650" width="1" height="33" fill="#c0c0c0" />
<rect x="1252" y="651" width="1" height="32" fill="#c0c0c0" />
<rect x="1256" y="653" width="1" height="30" fill="#c0c0c0" />
<rect x="1260" y="653" width="1" height="30" fill="#c0c0c0" />
<rect x="1264" y="655" width="1" height="28" fill="#c0c0c0" />
<rect x="1268" y="657" width="1" height="26" fill="#c0c0c0" />
<polyline points="4.5,690.0 8.5,689.6 12.5,689.2 16.5,688.6 20.5,687.8 24.5,686.9 28.5,686.0 32.5,685.2 36.5,684.5 40.5,683.9 44.5,683.5 48.5,683.1 52.5,683.0 56.5,683.1 60.5,683.4 64.5,683.6 68.5,683.8 72.5,683.8 76.5,684.0 80.5,684.2 84.5,684.4 88.5,684.5 92.5,684.8 96.5,685.1 100.5,685.4 104.5,685.7 108.5,685.9 112.5,685.8 116.5,685.3 120.5,684.7 124.5,683.9 128.5,682.9 132.5,681.8 136.5,680.7 140.5,679.7 144.5,678.8 148.5,678.1 152.5,677.8 156.5,676.1 160.5,673.6 164.5,670.4 168.5,666.6 172.5,662.1 176.5,657.3 180.5,652.1 184.5,646.9 188.5,641.6 192.5,637.8 196.5,635.2 200.5,633.6 204.5,633.0 208.5,633.3 212.5,634.2 216.5,635.5 220.5,637.1 224.5,638.9 228.5,640.7 232.5,642.6 236.5,644.4 240.5,646.1 244.5,647.7 248.5,649.3 252.5,650.8 256.5,652.4 260.5,654.0 264.5,655.5 268.5,656.9 272.5,658.3 276.5,659.6 280.5,661.1 284.5,662.9 288.5,665.2 292.5,667.6 296.5,670.2 300.5,672.9 304.5,675.5 308.5,678.1 312.5,680.6 316.5,682.9 320.5,684.9 324.5,686.5 328.5,687.5 332.5,688.1 336.5,688.5 340.5,688.6 344.5,688.5 348.5,688.2 352.5,687.8 356.5,687.4 360.5,686.9 364.5,686.5 368.5,686.2 372.5,685.9 376.5,685.8 380.5,685.8 384.5,685.8 388.5,685.9 392.5,685.8 396.5,685.6 400.5,685.4 404.5,685.3 408.5,685.2 412.5,685.1 416.5,684.9 420.5,684.7 424.5,684.5 428.5,684.2 432.5,683.7 436.5,682.7 440.5,681.1 444.5,678.0 448.5,674.2 452.5,669.8 456.5,665.0 460.5,659.8 464.5,654.4 468.5,648.9 472.5,644.6 476.5,641.1 480.5,639.2 484.5,638.3 488.5,638.4 492.5,639.0 496.5,640.2 500.5,641.8 504.5,643.6 508.5,644.6 512.5,645.1 516.5,644.9 520.5,644.3 524.5,643.3 528.5,642.2 532.5,641.1 536.5,640.0 540.5,638.8 544.5,637.9 548.5,637.7 552.5,638.3 556.5,639.6 560.5,641.7 564.5,644.1 568.5,646.7 572.5,649.6 576.5,653.3 580.5,657.6 584.5,662.2 588.5,666.5 592.5,670.3 596.5,673.6 600.5,676.5 604.5,679.0 608.5,680.9 612.5,682.0 616.5,682.2 620.5,681.7 624.5,680.8 628.5,679.7 632.5,678.3 636.5,676.9 640.5,675.4 644.5,674.1 648.5,673.0 652.5,672.3 656.5,672.1 660.5,672.0 664.5,671.9 668.5,672.1 672.5,672.6 676.5,673.7 680.5,675.2 684.5,676.9 688.5,678.6 692.5,680.1 696.5,681.6 700.5,683.5 704.5,685.4 708.5,687.2 712.5,688.5 716.5,689.6 720.5,690.4 724.5,691.1 728.5,691.9 732.5,692.6 736.5,693.2 740.5,693.6 744.5,694.1 748.5,694.6 752.5,695.0 756.5,695.5 760.5,696.3 764.5,697.1 768.5,698.3 772.5,699.6 776.5,700.9 780.5,702.1 784.5,702.9 788.5,703.5 792.5,703.7 796.5,703.6 800.5,703.2 804.5,702.3 808.5,701.0 812.5,699.5 816.5,697.8 820.5,696.1 824.5,694.5 828.5,693.0 832.5,691.6 836.5,690.3 840.5,689.2 844.5,688.2 848.5,687.4 852.5,686.6 856.5,685.8 860.5,685.0 864.5,684.3 868.5,683.6 872.5,683.1 876.5,682.6 880.5,682.2 884.5,681.9 888.5,682.2 892.5,683.0 896.5,683.9 900.5,685.1 904.5,686.2 908.5,687.3 912.5,688.4 916.5,689.4 920.5,690.4 924.5,690.8 928.5,691.2 932.5,691.3 936.5,691.3 940.5,691.2 944.5,691.1 948.5,691.1 952.5,691.2 956.5,691.6 960.5,692.1 964.5,692.8 968.5,693.6 972.5,694.2 976.5,694.9 980.5,695.7 984.5,696.6 988.5,697.6 992.5,698.6 996.5,699.7 1000.5,701.0 1004.5,702.5 1008.5,704.1 1012.5,705.8 1016.5,707.5 1020.5,709.0 1024.5,709.9 1028.5,710.3 1032.5,709.8 1036.5,708.8 1040.5,707.3 1044.5,705.0 1048.5,702.1 1052.5,698.8 1056.5,694.9 1060.5,691.0 1064.5,687.2 1068.5,683.5 1072.5,680.1 1076.5,677.2 1080.5,675.1 1084.5,673.3 1088.5,671.6 1092.5,670.5 1096.5,670.0 1100.5,670.0 1104.5,670.4 1108.5,670.8 1112.5,671.1 1116.5,671.4 1120.5,671.8 1124.5,672.2 1128.5,672.2 1132.5,671.8 1136.5,671.1 1140.5,670.3 1144.5,669.6 1148.5,668.9 1152.5,668.3 1156.5,668.1 1160.5,668.3 1164.5,669.3 1168.5,671.0 1172.5,673.4 1176.5,676.1 1180.5,679.0 1184.5,682.1 1188.5,685.0 1192.5,687.4 1196.5,689.5 1200.5,690.4 1204.5,690.3 1208.5,689.2 1212.5,687.9 1216.5,685.9 1220.5,683.2 1224.5,679.5 1228.5,675.2 1232.5,670.6 1236.5,666.4 1240.5,662.9 1244.5,659.5 1248.5,656.4 1252.5,653.6 1256.5,651.8 1260.5,650.9 1264.5,650.9 1268.5,651.6" fill="none" stroke="#ff0000" stroke-width="1" stroke-dasharray="3 3"/>
</g>
<rect x="1597" y="31" width="2" height="1" fill="#000" />
<text x="1602" y="35" font-size="9.8" fill="#000" stroke="#000" stroke-width="0.25" text-anchor="start" textLength="33" lengthAdjust="spacingAndGlyphs" >7.21310</text>
<rect x="1597" y="64" width="2" height="1" fill="#000" />
<text x="1602" y="68" font-size="9.8" fill="#000" stroke="#000" stroke-width="0.25" text-anchor="start" textLength="33" lengthAdjust="spacingAndGlyphs" >7.17680</text>
<rect x="1597" y="97" width="2" height="1" fill="#000" />
<text x="1602" y="101" font-size="9.8" fill="#000" stroke="#000" stroke-width="0.25" text-anchor="start" textLength="33" lengthAdjust="spacingAndGlyphs" >7.14050</text>
<rect x="1597" y="130" width="2" height="1" fill="#000" />
<rect x="1597" y="163" width="2" height="1" fill="#000" />
<text x="1602" y="167" font-size="9.8" fill="#000" stroke="#000" stroke-width="0.25" text-anchor="start" textLength="33" lengthAdjust="spacingAndGlyphs" >7.06680</text>
<rect x="1597" y="196" width="2" height="1" fill="#000" />
<text x="1602" y="200" font-size="9.8" fill="#000" stroke="#000" stroke-width="0.25" text-anchor="start" textLength="33" lengthAdjust="spacingAndGlyphs" >7.03050</text>
<rect x="1597" y="229" width="2" height="1" fill="#000" />
<text x="1602" y="233" font-size="9.8" fill="#000" stroke="#000" stroke-width="0.25" text-anchor="start" textLength="33" lengthAdjust="spacingAndGlyphs" >6.99420</text>
<rect x="1597" y="262" width="2" height="1" fill="#000" />
<text x="1602" y="266" font-size="9.8" fill="#000" stroke="#000" stroke-width="0.25" text-anchor="start" textLength="33" lengthAdjust="spacingAndGlyphs" >6.95790</text>
<rect x="1597" y="295" width="2" height="1" fill="#000" />
<text x="1602" y="299" font-size="9.8" fill="#000" stroke="#000" stroke-width="0.25" text-anchor="start" textLength="33" lengthAdjust="spacingAndGlyphs" >6.92050</text>
<rect x="1597" y="328" width="2" height="1" fill="#000" />
<rect x="1597" y="361" width="2" height="1" fill="#000" />
<text x="1602" y="365" font-size="9.8" fill="#000" stroke="#000" stroke-width="0.25" text-anchor="start" textLength="33" lengthAdjust="spacingAndGlyphs" >6.84790</text>
<rect x="1597" y="394" width="2" height="1" fill="#000" />
<text x="1602" y="398" font-size="9.8" fill="#000" stroke="#000" stroke-width="0.25" text-anchor="start" textLength="33" lengthAdjust="spacingAndGlyphs" >6.81160</text>
<rect x="1597" y="427" width="2" height="1" fill="#000" />
<text x="1602" y="431" font-size="9.8" fill="#000" stroke="#000" stroke-width="0.25" text-anchor="start" textLength="33" lengthAdjust="spacingAndGlyphs" >6.77420</text>
<rect x="1597" y="460" width="2" height="1" fill="#000" />
<text x="1602" y="464" font-size="9.8" fill="#000" stroke="#000" stroke-width="0.25" text-anchor="start" textLength="33" lengthAdjust="spacingAndGlyphs" >6.73790</text>
<rect x="1597" y="493" width="2" height="1" fill="#000" />
<text x="1602" y="497" font-size="9.8" fill="#000" stroke="#000" stroke-width="0.25" text-anchor="start" textLength="33" lengthAdjust="spacingAndGlyphs" >6.70160</text>
<rect x="1597" y="526" width="2" height="1" fill="#000" />
<text x="1602" y="530" font-size="9.8" fill="#000" stroke="#000" stroke-width="0.25" text-anchor="start" textLength="33" lengthAdjust="spacingAndGlyphs" >6.66530</text>
<rect x="1598" y="35" width="41" height="11" fill="#ff0000" />
<text x="1602" y="44" font-size="9.8" fill="#fff" stroke="#fff" stroke-width="0.25" text-anchor="start" textLength="33" lengthAdjust="spacingAndGlyphs" >7.20193</text>
<rect x="1598" y="127" width="41" height="11" fill="#ff0000" />
<text x="1602" y="136" font-size="9.8" fill="#fff" stroke="#fff" stroke-width="0.25" text-anchor="start" textLength="33" lengthAdjust="spacingAndGlyphs" >7.10011</text>
<rect x="1598" y="138" width="41" height="11" fill="#000" />
<text x="1602" y="147" font-size="9.8" fill="#fff" stroke="#fff" stroke-width="0.25" text-anchor="start" textLength="33" lengthAdjust="spacingAndGlyphs" >7.08952</text>
<rect x="1598" y="217" width="41" height="11" fill="#00ff00" />
<text x="1602" y="226" font-size="9.8" fill="#fff" stroke="#fff" stroke-width="0.25" text-anchor="start" textLength="33" lengthAdjust="spacingAndGlyphs" >7.00029</text>
<rect x="1598" y="324" width="41" height="11" fill="#0000ff" />
<text x="1602" y="333" font-size="9.8" fill="#fff" stroke="#fff" stroke-width="0.25" text-anchor="start" textLength="33" lengthAdjust="spacingAndGlyphs" >6.88250</text>
<rect x="1598" y="433" width="41" height="11" fill="#0000ff" />
<text x="1602" y="442" font-size="9.8" fill="#fff" stroke="#fff" stroke-width="0.25" text-anchor="start" textLength="33" lengthAdjust="spacingAndGlyphs" >6.76171</text>
<rect x="1597" y="533" width="1" height="1" fill="#000" />
<text x="1600" y="542" font-size="9.8" fill="#000" stroke="#000" stroke-width="0.25" text-anchor="start" textLength="15.1" lengthAdjust="spacingAndGlyphs" >100</text>
<rect x="1597" y="559" width="2" height="1" fill="#000" />
<text x="1600" y="563" font-size="9.8" fill="#000" stroke="#000" stroke-width="0.25" text-anchor="start" textLength="10.1" lengthAdjust="spacingAndGlyphs" >70</text>
<rect x="1597" y="595" width="2" height="1" fill="#000" />
<text x="1600" y="599" font-size="9.8" fill="#000" stroke="#000" stroke-width="0.25" text-anchor="start" textLength="10.1" lengthAdjust="spacingAndGlyphs" >30</text>
<rect x="1597" y="622" width="1" height="1" fill="#000" />
<text x="1600" y="620" font-size="9.8" fill="#000" stroke="#000" stroke-width="0.25" text-anchor="start" textLength="5.0" lengthAdjust="spacingAndGlyphs" >0</text>
<rect x="1597" y="627" width="1" height="1" fill="#000" />
<rect x="1597" y="682" width="2" height="1" fill="#000" />
<rect x="1597" y="716" width="1" height="1" fill="#000" />
<text x="1600" y="636" font-size="9.8" fill="#000" stroke="#000" stroke-width="0.25" text-anchor="start" textLength="37.1" lengthAdjust="spacingAndGlyphs" >0.063113</text>
<text x="1600" y="686" font-size="9.8" fill="#000" stroke="#000" stroke-width="0.25" text-anchor="start" textLength="17.6" lengthAdjust="spacingAndGlyphs" >0.00</text>
<text x="1600" y="714" font-size="9.8" fill="#000" stroke="#000" stroke-width="0.25" text-anchor="start" textLength="40.8" lengthAdjust="spacingAndGlyphs" >-0.038872</text>
<path d="M1272 24 L1281.5 24 L1276.7 29.2 Z" fill="#c0c0c0"/>
<path d="M7 30 L14 30 L10.5 34 Z" fill="#000"/>
<text x="19.2" y="35" font-size="9.8" fill="#000" stroke="#000" stroke-width="0.25" text-anchor="start" textLength="65.4" lengthAdjust="spacingAndGlyphs" >USDCNH,Daily</text>
<text x="91" y="35" font-size="9.8" fill="#000" stroke="#000" stroke-width="0.25" text-anchor="start" textLength="141" lengthAdjust="spacingAndGlyphs" >7.08425 7.09802 7.07704 7.08952</text>
<text x="8.3" y="544" font-size="9.8" fill="#000" stroke="#000" stroke-width="0.25" text-anchor="start" textLength="67.6" lengthAdjust="spacingAndGlyphs" >RSI(14) 54.5539</text>
<text x="8.5" y="638" font-size="9.8" fill="#000" stroke="#000" stroke-width="0.25" text-anchor="start" textLength="147" lengthAdjust="spacingAndGlyphs" >MACD(12,26,9) 0.027920 0.034193</text>
<rect x="4" y="718" width="1" height="3" fill="#000" />
<text x="3" y="730" font-size="9.8" fill="#000" stroke="#000" stroke-width="0.25" text-anchor="start" textLength="51.4" lengthAdjust="spacingAndGlyphs" >22 Mar 2019</text>
<rect x="68" y="718" width="1" height="3" fill="#000" />
<text x="67" y="730" font-size="9.8" fill="#000" stroke="#000" stroke-width="0.25" text-anchor="start" textLength="49.4" lengthAdjust="spacingAndGlyphs" >10 Apr 2019</text>
<rect x="132" y="718" width="1" height="3" fill="#000" />
<text x="131" y="730" font-size="9.8" fill="#000" stroke="#000" stroke-width="0.25" text-anchor="start" textLength="49.4" lengthAdjust="spacingAndGlyphs" >30 Apr 2019</text>
<rect x="196" y="718" width="1" height="3" fill="#000" />
<text x="195" y="730" font-size="9.8" fill="#000" stroke="#000" stroke-width="0.25" text-anchor="start" textLength="53.0" lengthAdjust="spacingAndGlyphs" >24 May 2019</text>
<rect x="260" y="718" width="1" height="3" fill="#000" />
<text x="259" y="730" font-size="9.8" fill="#000" stroke="#000" stroke-width="0.25" text-anchor="start" textLength="50.4" lengthAdjust="spacingAndGlyphs" >12 Jun 2019</text>
<rect x="324" y="718" width="1" height="3" fill="#000" />
<text x="323" y="730" font-size="9.8" fill="#000" stroke="#000" stroke-width="0.25" text-anchor="start" textLength="42.3" lengthAdjust="spacingAndGlyphs" >1 Jul 2019</text>
<rect x="388" y="718" width="1" height="3" fill="#000" />
<text x="387" y="730" font-size="9.8" fill="#000" stroke="#000" stroke-width="0.25" text-anchor="start" textLength="47.4" lengthAdjust="spacingAndGlyphs" >19 Jul 2019</text>
<rect x="452" y="718" width="1" height="3" fill="#000" />
<text x="451" y="730" font-size="9.8" fill="#000" stroke="#000" stroke-width="0.25" text-anchor="start" textLength="46.4" lengthAdjust="spacingAndGlyphs" >7 Aug 2019</text>
<rect x="516" y="718" width="1" height="3" fill="#000" />
<text x="515" y="730" font-size="9.8" fill="#000" stroke="#000" stroke-width="0.25" text-anchor="start" textLength="51.5" lengthAdjust="spacingAndGlyphs" >26 Aug 2019</text>
<rect x="580" y="718" width="1" height="3" fill="#000" />
<text x="579" y="730" font-size="9.8" fill="#000" stroke="#000" stroke-width="0.25" text-anchor="start" textLength="52.0" lengthAdjust="spacingAndGlyphs" >13 Sep 2019</text>
<rect x="644" y="718" width="1" height="3" fill="#000" />
<text x="643" y="730" font-size="9.8" fill="#000" stroke="#000" stroke-width="0.25" text-anchor="start" textLength="44.8" lengthAdjust="spacingAndGlyphs" >2 Oct 2019</text>
<rect x="708" y="718" width="1" height="3" fill="#000" />
<text x="707" y="730" font-size="9.8" fill="#000" stroke="#000" stroke-width="0.25" text-anchor="start" textLength="49.9" lengthAdjust="spacingAndGlyphs" >21 Oct 2019</text>
<rect x="772" y="718" width="1" height="3" fill="#000" />
<text x="771" y="730" font-size="9.8" fill="#000" stroke="#000" stroke-width="0.25" text-anchor="start" textLength="46.9" lengthAdjust="spacingAndGlyphs" >8 Nov 2019</text>
<rect x="836" y="718" width="1" height="3" fill="#000" />
<text x="835" y="730" font-size="9.8" fill="#000" stroke="#000" stroke-width="0.25" text-anchor="start" textLength="52.0" lengthAdjust="spacingAndGlyphs" >27 Nov 2019</text>
<rect x="900" y="718" width="1" height="3" fill="#000" />
<text x="899" y="730" font-size="9.8" fill="#000" stroke="#000" stroke-width="0.25" text-anchor="start" textLength="52.0" lengthAdjust="spacingAndGlyphs" >16 Dec 2019</text>
<rect x="964" y="718" width="1" height="3" fill="#000" />
<text x="963" y="730" font-size="9.8" fill="#000" stroke="#000" stroke-width="0.25" text-anchor="start" textLength="45.3" lengthAdjust="spacingAndGlyphs" >3 Jan 2020</text>
<rect x="1028" y="718" width="1" height="3" fill="#000" />
<text x="1027" y="730" font-size="9.8" fill="#000" stroke="#000" stroke-width="0.25" text-anchor="start" textLength="50.4" lengthAdjust="spacingAndGlyphs" >22 Jan 2020</text>
<rect x="1092" y="718" width="1" height="3" fill="#000" />
<text x="1091" y="730" font-size="9.8" fill="#000" stroke="#000" stroke-width="0.25" text-anchor="start" textLength="51.5" lengthAdjust="spacingAndGlyphs" >10 Feb 2020</text>
<rect x="1156" y="718" width="1" height="3" fill="#000" />
<text x="1155" y="730" font-size="9.8" fill="#000" stroke="#000" stroke-width="0.25" text-anchor="start" textLength="51.5" lengthAdjust="spacingAndGlyphs" >28 Feb 2020</text>
<rect x="1220" y="718" width="1" height="3" fill="#000" />
<text x="1219" y="730" font-size="9.8" fill="#000" stroke="#000" stroke-width="0.25" text-anchor="start" textLength="51.4" lengthAdjust="spacingAndGlyphs" >18 Mar 2020</text>
<rect x="0" y="738" width="1639" height="1" fill="#e4e4e4" />
<rect x="0" y="740" width="1639" height="1" fill="#000" />
<rect x="0" y="741" width="1639" height="1" fill="#fff" />
<rect x="0" y="742" width="1639" height="18" fill="#f0f0f0" />
<rect x="0" y="760" width="1639" height="1" fill="#fff" />
<rect x="0" y="761" width="1639" height="2" fill="#f0f0f0" />
<rect x="0" y="741" width="1" height="18" fill="#555" />
<rect x="109" y="743" width="1" height="14" fill="#4a4a4a" />
<rect x="209" y="743" width="1" height="14" fill="#4a4a4a" />
<rect x="313" y="743" width="1" height="14" fill="#4a4a4a" />
<rect x="625" y="743" width="1" height="14" fill="#4a4a4a" />
<rect x="716" y="743" width="1" height="14" fill="#4a4a4a" />
<rect x="808" y="743" width="1" height="14" fill="#4a4a4a" />
<rect x="880" y="743" width="1" height="14" fill="#4a4a4a" />
<rect x="959" y="743" width="1" height="14" fill="#4a4a4a" />
<rect x="1039" y="743" width="1" height="14" fill="#4a4a4a" />
<rect x="1120" y="743" width="1" height="14" fill="#4a4a4a" />
<rect x="1196" y="743" width="1" height="14" fill="#4a4a4a" />
<rect x="1269" y="743" width="1" height="14" fill="#4a4a4a" />
<rect x="1353" y="743" width="1" height="14" fill="#4a4a4a" />
<rect x="417" y="740" width="104" height="19" fill="#fff" />
<rect x="417" y="740" width="1" height="19" fill="#000" />
<rect x="520" y="740" width="1" height="19" fill="#000" />
<rect x="417" y="758" width="104" height="1" fill="#000" />
<text x="17" y="755" font-size="12.4" fill="#6a6a6a" stroke="#6a6a6a" stroke-width="0.1" text-anchor="start" textLength="80" lengthAdjust="spacingAndGlyphs" >EURUSD,Daily</text>
<text x="119" y="755" font-size="12.4" fill="#6a6a6a" stroke="#6a6a6a" stroke-width="0.1" text-anchor="start" textLength="79" lengthAdjust="spacingAndGlyphs" >USDCHF,Daily</text>
<text x="220" y="755" font-size="12.4" fill="#6a6a6a" stroke="#6a6a6a" stroke-width="0.1" text-anchor="start" textLength="82" lengthAdjust="spacingAndGlyphs" >AUDUSD,Daily</text>
<text x="324" y="755" font-size="12.4" fill="#6a6a6a" stroke="#6a6a6a" stroke-width="0.1" text-anchor="start" textLength="81" lengthAdjust="spacingAndGlyphs" >USDCAD,Daily</text>
<text x="427" y="755" font-size="12.4" fill="#000" stroke="#000" stroke-width="0.1" text-anchor="start" textLength="83" lengthAdjust="spacingAndGlyphs" >USDCNH,Daily</text>
<text x="533" y="755" font-size="12.4" fill="#6a6a6a" stroke="#6a6a6a" stroke-width="0.1" text-anchor="start" textLength="80" lengthAdjust="spacingAndGlyphs" >EURUSD,Daily</text>
<text x="637" y="755" font-size="12.4" fill="#6a6a6a" stroke="#6a6a6a" stroke-width="0.1" text-anchor="start" textLength="68" lengthAdjust="spacingAndGlyphs" >GBPUSD,H4</text>
<text x="728" y="755" font-size="12.4" fill="#6a6a6a" stroke="#6a6a6a" stroke-width="0.1" text-anchor="start" textLength="69" lengthAdjust="spacingAndGlyphs" >XAUUSD,H1</text>
<text x="820" y="755" font-size="12.4" fill="#6a6a6a" stroke="#6a6a6a" stroke-width="0.1" text-anchor="start" textLength="50" lengthAdjust="spacingAndGlyphs" >HK50,H1</text>
<text x="892" y="755" font-size="12.4" fill="#6a6a6a" stroke="#6a6a6a" stroke-width="0.1" text-anchor="start" textLength="57" lengthAdjust="spacingAndGlyphs" >UK100,H1</text>
<text x="972" y="755" font-size="12.4" fill="#6a6a6a" stroke="#6a6a6a" stroke-width="0.1" text-anchor="start" textLength="57" lengthAdjust="spacingAndGlyphs" >UK100,H1</text>
<text x="1052" y="755" font-size="12.4" fill="#6a6a6a" stroke="#6a6a6a" stroke-width="0.1" text-anchor="start" textLength="57" lengthAdjust="spacingAndGlyphs" >GER30,H1</text>
<text x="1131" y="755" font-size="12.4" fill="#6a6a6a" stroke="#6a6a6a" stroke-width="0.1" text-anchor="start" textLength="55" lengthAdjust="spacingAndGlyphs" >FRA40,H1</text>
<text x="1207" y="755" font-size="12.4" fill="#6a6a6a" stroke="#6a6a6a" stroke-width="0.1" text-anchor="start" textLength="51" lengthAdjust="spacingAndGlyphs" >USOil,H1</text>
<text x="1279" y="755" font-size="12.4" fill="#6a6a6a" stroke="#6a6a6a" stroke-width="0.1" text-anchor="start" textLength="63" lengthAdjust="spacingAndGlyphs" >USDJPY,H1</text>
<path d="M1615 745 L1615 753 L1611 749 Z" fill="#a0a0a0"/><path d="M1631 745 L1631 753 L1635 749 Z" fill="#a0a0a0"/>
</svg>
</body></html>
